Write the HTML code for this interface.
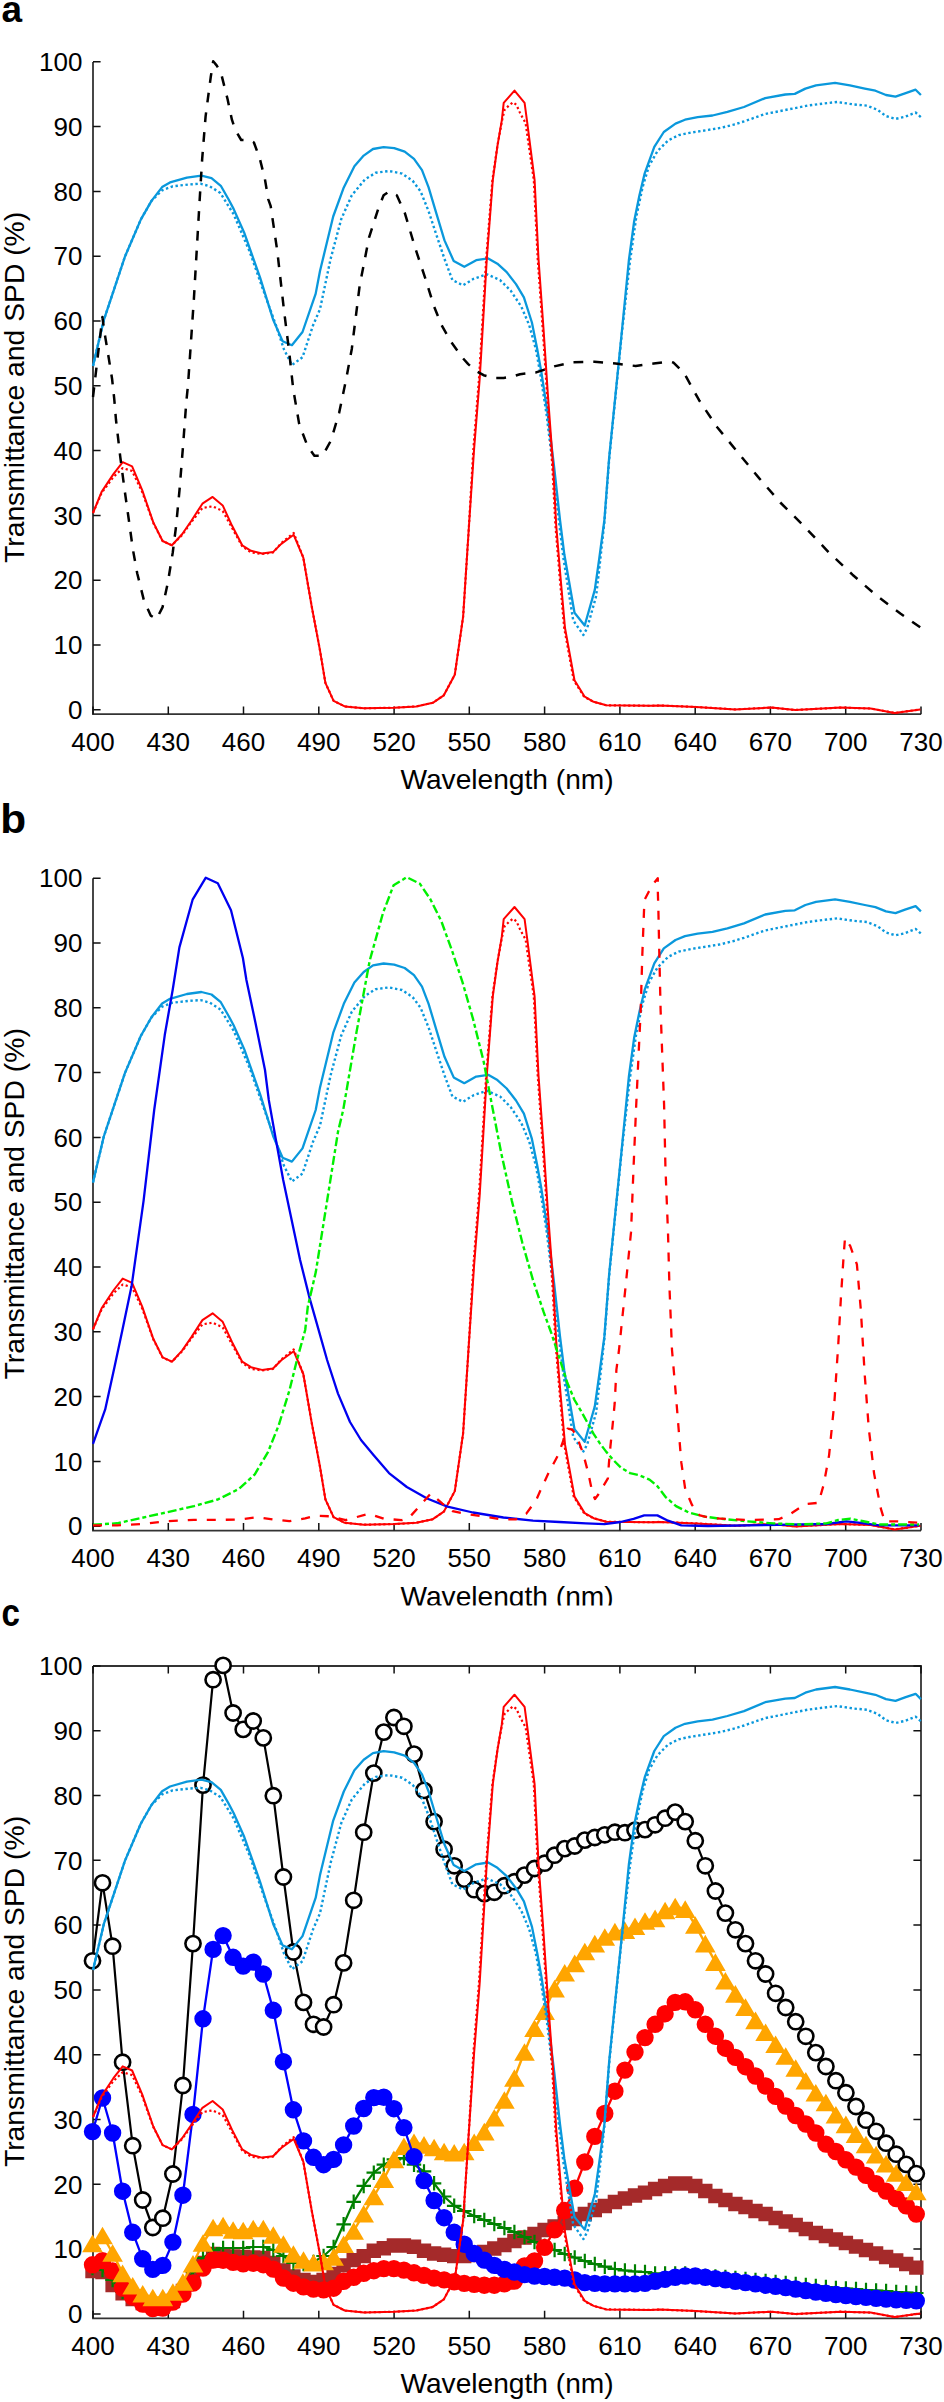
<!DOCTYPE html>
<html><head><meta charset="utf-8"><style>
html,body{margin:0;padding:0;background:#fff;}
svg{display:block;}
.tl{font-family:"Liberation Sans",sans-serif;font-size:26px;fill:#000;}
.al{font-family:"Liberation Sans",sans-serif;font-size:28.15px;fill:#000;}
.yl{font-family:"Liberation Sans",sans-serif;font-size:28.3px;fill:#000;}
.pl{font-family:"Liberation Sans",sans-serif;font-size:40px;font-weight:bold;fill:#000;}
</style></head><body>
<svg width="944" height="2402" viewBox="0 0 944 2402">
<defs><clipPath id="clipb"><rect x="0" y="1500" width="944" height="105.6"/></clipPath></defs>
<rect width="944" height="2402" fill="#fff"/>
<text transform="translate(1.6 21.8)" class="pl" style="font-size:37px">a</text>
<text transform="translate(0.3 832.6) scale(1.06 1)" class="pl">b</text>
<text transform="translate(1.6 1625.7) scale(0.84 1)" class="pl" style="font-size:39.5px">c</text>
<path d="M93.0 61.9 V714.2 H921.0" fill="none" stroke="#333333" stroke-width="1.8"/>
<path d="M93.0 709.8h7.6M93.0 645.0h7.6M93.0 580.2h7.6M93.0 515.4h7.6M93.0 450.6h7.6M93.0 385.8h7.6M93.0 321.0h7.6M93.0 256.2h7.6M93.0 191.4h7.6M93.0 126.6h7.6M93.0 61.8h7.6M93.0 714.2v-7.6M168.3 714.2v-7.6M243.5 714.2v-7.6M318.8 714.2v-7.6M394.1 714.2v-7.6M469.3 714.2v-7.6M544.6 714.2v-7.6M619.9 714.2v-7.6M695.2 714.2v-7.6M770.4 714.2v-7.6M845.7 714.2v-7.6M921.0 714.2v-7.6" fill="none" stroke="#111" stroke-width="1.5"/>
<text x="82.5" y="719.0" class="tl" text-anchor="end">0</text>
<text x="82.5" y="654.2" class="tl" text-anchor="end">10</text>
<text x="82.5" y="589.4" class="tl" text-anchor="end">20</text>
<text x="82.5" y="524.6" class="tl" text-anchor="end">30</text>
<text x="82.5" y="459.8" class="tl" text-anchor="end">40</text>
<text x="82.5" y="395.0" class="tl" text-anchor="end">50</text>
<text x="82.5" y="330.2" class="tl" text-anchor="end">60</text>
<text x="82.5" y="265.4" class="tl" text-anchor="end">70</text>
<text x="82.5" y="200.6" class="tl" text-anchor="end">80</text>
<text x="82.5" y="135.8" class="tl" text-anchor="end">90</text>
<text x="82.5" y="71.0" class="tl" text-anchor="end">100</text>
<text x="93.0" y="750.5" class="tl" text-anchor="middle">400</text>
<text x="168.3" y="750.5" class="tl" text-anchor="middle">430</text>
<text x="243.5" y="750.5" class="tl" text-anchor="middle">460</text>
<text x="318.8" y="750.5" class="tl" text-anchor="middle">490</text>
<text x="394.1" y="750.5" class="tl" text-anchor="middle">520</text>
<text x="469.3" y="750.5" class="tl" text-anchor="middle">550</text>
<text x="544.6" y="750.5" class="tl" text-anchor="middle">580</text>
<text x="619.9" y="750.5" class="tl" text-anchor="middle">610</text>
<text x="695.2" y="750.5" class="tl" text-anchor="middle">640</text>
<text x="770.4" y="750.5" class="tl" text-anchor="middle">670</text>
<text x="845.7" y="750.5" class="tl" text-anchor="middle">700</text>
<text x="921.0" y="750.5" class="tl" text-anchor="middle">730</text>
<text x="507" y="789.2" class="al" text-anchor="middle">Wavelength (nm)</text>
<text transform="translate(24.3 387.4) rotate(-90)" class="yl" text-anchor="middle">Transmittance and SPD (%)</text>
<polyline points="93.0,366.0 103.8,320.1 114.4,288.3 125.0,256.5 140.9,219.4 151.5,200.9 162.1,187.1 170.0,182.4 186.9,177.6 201.4,175.6 211.5,178.1 220.8,185.8 228.5,199.3 233.6,208.9 244.2,232.7 260.1,277.7 273.3,320.1 282.6,341.3 291.9,345.2 302.5,332.0 315.7,293.6 320.0,271.0 333.2,216.5 343.8,187.4 354.4,166.2 363.7,155.6 373.0,149.0 383.6,147.1 394.2,148.2 404.7,151.6 414.0,158.8 422.0,170.2 428.6,187.4 436.5,213.9 444.5,240.4 453.7,261.0 464.3,266.8 476.2,260.2 488.2,258.4 497.4,263.7 506.7,272.1 516.0,284.1 523.9,297.3 531.9,322.5 537.2,348.9 541.4,372.4 547.8,414.7 554.2,467.7 560.0,520.0 564.3,554.3 574.5,612.8 584.7,625.5 594.8,589.9 599.3,558.1 604.4,520.0 609.2,457.1 615.6,393.6 622.0,330.0 628.9,260.0 634.2,221.0 639.4,195.6 644.7,173.3 654.3,146.9 663.8,132.0 675.5,123.6 685.0,119.7 697.7,117.2 712.5,115.5 727.4,111.9 744.0,107.0 765.2,98.1 785.3,94.5 794.8,93.9 805.4,88.6 816.0,85.4 835.1,82.9 849.9,85.4 864.8,88.6 875.4,90.7 886.0,95.0 895.5,96.7 905.0,93.3 915.6,89.7 920.9,95.0" fill="none" stroke="#0a98dc" stroke-width="2.3" stroke-linejoin="round"/>
<polyline points="93.0,366.0 103.8,320.1 114.4,288.3 125.0,256.5 140.9,219.4 151.5,200.9 162.1,190.3 172.7,186.3 188.6,184.5 200.5,183.7 209.8,186.3 220.4,193.0 233.6,214.2 249.5,251.2 265.4,296.2 276.0,325.4 283.9,349.2 291.9,365.1 302.5,357.2 313.0,325.4 320.0,309.2 330.6,258.9 341.2,219.2 351.8,195.3 365.0,179.4 375.6,172.8 388.9,171.0 402.1,173.6 412.7,180.8 420.6,191.4 428.6,211.2 436.5,235.1 444.5,258.9 452.4,280.1 463.0,285.4 473.6,278.8 486.8,274.3 500.1,280.1 510.7,290.7 521.3,306.6 529.2,325.1 535.8,348.9 540.0,372.0 546.5,414.0 553.0,467.0 558.8,520.0 563.4,558.0 573.2,620.4 583.4,635.0 587.2,628.0 596.1,596.3 600.0,562.0 604.4,522.0 609.2,459.0 615.6,395.0 622.0,332.0 629.9,262.0 636.3,216.8 642.6,187.1 649.0,165.9 657.5,151.1 668.1,140.5 678.6,135.2 691.4,132.5 708.3,129.9 721.0,127.8 733.7,124.6 744.0,121.4 765.2,114.0 786.4,109.8 807.6,105.6 824.5,103.4 837.2,102.0 854.2,104.5 866.9,105.6 877.5,109.8 886.0,116.1 895.5,118.9 905.0,116.8 915.6,112.5 920.9,117.2" fill="none" stroke="#0a98dc" stroke-width="2.4" stroke-dasharray="2.4 2.6" stroke-linejoin="round"/>
<polyline points="93.0,513.0 101.6,493.0 113.4,477.0 122.7,468.1 132.1,471.0 142.2,492.0 153.3,523.0 162.6,541.0 171.9,545.3 182.1,535.0 191.4,522.0 202.4,508.0 212.6,506.3 222.7,511.0 232.1,528.0 242.2,546.3 251.0,552.5 262.0,554.0 273.0,552.5 281.3,543.0 293.7,533.0 303.3,557.6 311.6,605.8 319.9,649.9 325.4,682.9 333.6,700.8 344.7,706.4 363.9,708.3 394.2,707.7 416.3,706.4 432.8,702.8 443.8,695.3 454.8,674.7 463.1,616.9 468.6,531.5 473.4,448.9 478.9,380.0 480.8,348.9 486.2,258.9 492.4,180.0 497.4,145.7 502.1,120.3 504.5,110.0 508.8,105.6 513.0,102.3 516.4,104.8 519.8,112.4 522.4,117.4 525.6,123.0 528.0,140.0 533.8,180.0 537.7,258.9 542.8,330.0 547.0,393.6 552.3,465.6 555.4,525.0 559.7,577.2 564.2,628.0 573.7,680.2 584.2,697.0 593.6,701.8 606.3,705.3 650.0,705.8 660.0,705.5 696.1,707.0 735.2,709.4 771.3,707.6 795.4,710.0 840.5,707.6 870.6,708.5 894.7,713.0 920.2,709.4" fill="none" stroke="#ff0000" stroke-width="2.2" stroke-dasharray="2.2 2.6" stroke-linejoin="round"/>
<polyline points="93.0,513.0 101.6,491.9 113.4,474.1 122.7,462.2 132.1,466.4 142.2,490.2 153.3,522.4 162.6,541.0 171.9,545.3 182.1,534.2 191.4,520.7 202.4,503.7 212.6,496.9 222.7,505.4 232.1,525.8 242.2,545.3 251.0,550.8 262.0,553.5 273.0,552.1 281.3,543.9 293.7,534.8 303.3,557.6 311.6,605.8 319.9,649.9 325.4,682.9 333.6,700.8 344.7,706.4 363.9,708.3 394.2,707.7 416.3,706.4 432.8,702.8 443.8,695.3 454.8,674.7 463.1,616.9 468.6,531.5 474.1,448.9 479.6,380.0 481.5,348.9 486.8,258.9 492.8,180.0 497.5,145.7 501.8,120.3 503.7,102.8 514.5,90.6 524.6,102.8 527.2,122.4 534.6,180.0 538.5,258.9 543.6,330.0 547.8,393.6 553.1,465.6 556.2,525.0 560.5,577.2 565.0,628.0 574.5,680.2 584.7,696.7 593.6,701.8 606.3,705.3 650.0,705.8 660.0,705.5 696.1,707.0 735.2,709.4 771.3,707.6 795.4,710.0 840.5,707.6 870.6,708.5 894.7,713.0 920.2,709.4" fill="none" stroke="#ff0000" stroke-width="2.0" stroke-linejoin="round"/>
<polyline points="93.0,397.0 102.4,317.1 104.5,332.4 108.7,357.8 112.1,379.0 114.2,398.5 116.0,420.0 120.2,456.3 124.4,488.5 128.7,519.0 132.9,549.5 137.2,573.2 143.9,600.3 150.7,615.6 156.6,619.0 162.6,607.1 167.7,583.4 172.7,552.9 176.1,525.8 179.5,490.2 182.9,447.8 186.3,402.0 188.0,385.1 193.9,298.9 199.7,199.3 202.2,158.6 205.6,116.3 210.7,77.3 213.2,61.2 216.6,65.4 220.8,72.2 227.6,99.3 231.9,119.7 235.3,129.8 241.2,140.0 249.7,140.0 253.9,142.5 259.8,158.6 264.9,179.0 268.3,199.3 270.7,206.2 277.3,251.2 283.9,309.5 289.2,351.9 293.2,389.0 299.2,424.1 307.5,446.1 314.4,455.7 322.6,455.7 330.9,440.6 339.1,413.0 346.0,380.0 351.8,348.9 359.7,285.4 369.0,237.7 378.3,208.6 383.6,195.3 389.4,191.4 396.8,195.3 404.7,212.6 415.3,248.3 425.9,280.1 433.8,305.8 441.2,324.4 450.7,341.3 456.0,348.7 462.4,357.7 468.2,364.1 476.1,371.0 483.6,375.2 494.2,377.9 503.7,377.9 513.2,376.3 520.0,374.2 536.1,372.4 554.2,366.4 573.2,362.2 594.4,361.8 615.6,363.5 635.7,366.0 653.7,363.5 667.5,361.7 673.5,362.6 684.1,373.1 699.1,400.2 717.2,427.2 738.2,452.8 759.3,478.4 780.3,502.5 804.4,526.5 828.5,552.1 852.5,574.7 876.6,595.7 900.7,613.8 920.2,627.3" fill="none" stroke="#000" stroke-width="2.5" stroke-dasharray="9.8 10" stroke-linejoin="round"/>
<path d="M93.0 878.3 V1530.6 H921.0" fill="none" stroke="#333333" stroke-width="1.8"/>
<path d="M93.0 1526.2h7.6M93.0 1461.4h7.6M93.0 1396.6h7.6M93.0 1331.8h7.6M93.0 1267.0h7.6M93.0 1202.2h7.6M93.0 1137.4h7.6M93.0 1072.6h7.6M93.0 1007.8h7.6M93.0 943.0h7.6M93.0 878.2h7.6M93.0 1530.6v-7.6M168.3 1530.6v-7.6M243.5 1530.6v-7.6M318.8 1530.6v-7.6M394.1 1530.6v-7.6M469.3 1530.6v-7.6M544.6 1530.6v-7.6M619.9 1530.6v-7.6M695.2 1530.6v-7.6M770.4 1530.6v-7.6M845.7 1530.6v-7.6M921.0 1530.6v-7.6" fill="none" stroke="#111" stroke-width="1.5"/>
<text x="82.5" y="1535.4" class="tl" text-anchor="end">0</text>
<text x="82.5" y="1470.6" class="tl" text-anchor="end">10</text>
<text x="82.5" y="1405.8" class="tl" text-anchor="end">20</text>
<text x="82.5" y="1341.0" class="tl" text-anchor="end">30</text>
<text x="82.5" y="1276.2" class="tl" text-anchor="end">40</text>
<text x="82.5" y="1211.4" class="tl" text-anchor="end">50</text>
<text x="82.5" y="1146.6" class="tl" text-anchor="end">60</text>
<text x="82.5" y="1081.8" class="tl" text-anchor="end">70</text>
<text x="82.5" y="1017.0" class="tl" text-anchor="end">80</text>
<text x="82.5" y="952.2" class="tl" text-anchor="end">90</text>
<text x="82.5" y="887.4" class="tl" text-anchor="end">100</text>
<text x="93.0" y="1566.9" class="tl" text-anchor="middle">400</text>
<text x="168.3" y="1566.9" class="tl" text-anchor="middle">430</text>
<text x="243.5" y="1566.9" class="tl" text-anchor="middle">460</text>
<text x="318.8" y="1566.9" class="tl" text-anchor="middle">490</text>
<text x="394.1" y="1566.9" class="tl" text-anchor="middle">520</text>
<text x="469.3" y="1566.9" class="tl" text-anchor="middle">550</text>
<text x="544.6" y="1566.9" class="tl" text-anchor="middle">580</text>
<text x="619.9" y="1566.9" class="tl" text-anchor="middle">610</text>
<text x="695.2" y="1566.9" class="tl" text-anchor="middle">640</text>
<text x="770.4" y="1566.9" class="tl" text-anchor="middle">670</text>
<text x="845.7" y="1566.9" class="tl" text-anchor="middle">700</text>
<text x="921.0" y="1566.9" class="tl" text-anchor="middle">730</text>
<g clip-path="url(#clipb)"><text x="507" y="1605.6" class="al" text-anchor="middle">Wavelength (nm)</text></g>
<text transform="translate(24.3 1203.8) rotate(-90)" class="yl" text-anchor="middle">Transmittance and SPD (%)</text>
<polyline points="93.0,1182.4 103.8,1136.5 114.4,1104.7 125.0,1072.9 140.9,1035.8 151.5,1017.3 162.1,1003.5 170.0,998.8 186.9,994.0 201.4,992.0 211.5,994.5 220.8,1002.2 228.5,1015.7 233.6,1025.3 244.2,1049.1 260.1,1094.1 273.3,1136.5 282.6,1157.7 291.9,1161.6 302.5,1148.4 315.7,1110.0 320.0,1087.4 333.2,1032.9 343.8,1003.8 354.4,982.6 363.7,972.0 373.0,965.4 383.6,963.5 394.2,964.6 404.7,968.0 414.0,975.2 422.0,986.6 428.6,1003.8 436.5,1030.3 444.5,1056.8 453.7,1077.4 464.3,1083.2 476.2,1076.6 488.2,1074.8 497.4,1080.1 506.7,1088.5 516.0,1100.5 523.9,1113.7 531.9,1138.9 537.2,1165.3 541.4,1188.8 547.8,1231.1 554.2,1284.1 560.0,1336.4 564.3,1370.7 574.5,1429.2 584.7,1441.9 594.8,1406.3 599.3,1374.5 604.4,1336.4 609.2,1273.5 615.6,1210.0 622.0,1146.4 628.9,1076.4 634.2,1037.4 639.4,1012.0 644.7,989.7 654.3,963.3 663.8,948.4 675.5,940.0 685.0,936.1 697.7,933.6 712.5,931.9 727.4,928.3 744.0,923.4 765.2,914.5 785.3,910.9 794.8,910.3 805.4,905.0 816.0,901.8 835.1,899.3 849.9,901.8 864.8,905.0 875.4,907.1 886.0,911.4 895.5,913.1 905.0,909.7 915.6,906.1 920.9,911.4" fill="none" stroke="#0a98dc" stroke-width="2.3" stroke-linejoin="round"/>
<polyline points="93.0,1182.4 103.8,1136.5 114.4,1104.7 125.0,1072.9 140.9,1035.8 151.5,1017.3 162.1,1006.7 172.7,1002.7 188.6,1000.9 200.5,1000.1 209.8,1002.7 220.4,1009.4 233.6,1030.6 249.5,1067.6 265.4,1112.6 276.0,1141.8 283.9,1165.6 291.9,1181.5 302.5,1173.6 313.0,1141.8 320.0,1125.6 330.6,1075.3 341.2,1035.6 351.8,1011.7 365.0,995.8 375.6,989.2 388.9,987.4 402.1,990.0 412.7,997.2 420.6,1007.8 428.6,1027.6 436.5,1051.5 444.5,1075.3 452.4,1096.5 463.0,1101.8 473.6,1095.2 486.8,1090.7 500.1,1096.5 510.7,1107.1 521.3,1123.0 529.2,1141.5 535.8,1165.3 540.0,1188.4 546.5,1230.4 553.0,1283.4 558.8,1336.4 563.4,1374.4 573.2,1436.8 583.4,1451.4 587.2,1444.4 596.1,1412.7 600.0,1378.4 604.4,1338.4 609.2,1275.4 615.6,1211.4 622.0,1148.4 629.9,1078.4 636.3,1033.2 642.6,1003.5 649.0,982.3 657.5,967.5 668.1,956.9 678.6,951.6 691.4,948.9 708.3,946.3 721.0,944.2 733.7,941.0 744.0,937.8 765.2,930.4 786.4,926.2 807.6,922.0 824.5,919.8 837.2,918.4 854.2,920.9 866.9,922.0 877.5,926.2 886.0,932.5 895.5,935.3 905.0,933.2 915.6,928.9 920.9,933.6" fill="none" stroke="#0a98dc" stroke-width="2.4" stroke-dasharray="2.4 2.6" stroke-linejoin="round"/>
<polyline points="93.0,1329.4 101.6,1309.4 113.4,1293.4 122.7,1284.5 132.1,1287.4 142.2,1308.4 153.3,1339.4 162.6,1357.4 171.9,1361.7 182.1,1351.4 191.4,1338.4 202.4,1324.4 212.6,1322.7 222.7,1327.4 232.1,1344.4 242.2,1362.7 251.0,1368.9 262.0,1370.4 273.0,1368.9 281.3,1359.4 293.7,1349.4 303.3,1374.0 311.6,1422.2 319.9,1466.3 325.4,1499.3 333.6,1517.2 344.7,1522.8 363.9,1524.7 394.2,1524.1 416.3,1522.8 432.8,1519.2 443.8,1511.7 454.8,1491.1 463.1,1433.3 468.6,1347.9 473.4,1265.3 478.9,1196.4 480.8,1165.3 486.2,1075.3 492.4,996.4 497.4,962.1 502.1,936.7 504.5,926.4 508.8,922.0 513.0,918.7 516.4,921.2 519.8,928.8 522.4,933.8 525.6,939.4 528.0,956.4 533.8,996.4 537.7,1075.3 542.8,1146.4 547.0,1210.0 552.3,1282.0 555.4,1341.4 559.7,1393.6 564.2,1444.4 573.7,1496.6 584.2,1513.4 593.6,1518.2 606.3,1521.7 650.0,1522.2 660.0,1521.9 696.1,1523.4 735.2,1525.8 771.3,1524.0 795.4,1526.4 840.5,1524.0 870.6,1524.9 894.7,1529.4 920.2,1525.8" fill="none" stroke="#ff0000" stroke-width="2.2" stroke-dasharray="2.2 2.6" stroke-linejoin="round"/>
<polyline points="93.0,1329.4 101.6,1308.3 113.4,1290.5 122.7,1278.6 132.1,1282.8 142.2,1306.6 153.3,1338.8 162.6,1357.4 171.9,1361.7 182.1,1350.6 191.4,1337.1 202.4,1320.1 212.6,1313.3 222.7,1321.8 232.1,1342.2 242.2,1361.7 251.0,1367.2 262.0,1369.9 273.0,1368.5 281.3,1360.3 293.7,1351.2 303.3,1374.0 311.6,1422.2 319.9,1466.3 325.4,1499.3 333.6,1517.2 344.7,1522.8 363.9,1524.7 394.2,1524.1 416.3,1522.8 432.8,1519.2 443.8,1511.7 454.8,1491.1 463.1,1433.3 468.6,1347.9 474.1,1265.3 479.6,1196.4 481.5,1165.3 486.8,1075.3 492.8,996.4 497.5,962.1 501.8,936.7 503.7,919.2 514.5,907.0 524.6,919.2 527.2,938.8 534.6,996.4 538.5,1075.3 543.6,1146.4 547.8,1210.0 553.1,1282.0 556.2,1341.4 560.5,1393.6 565.0,1444.4 574.5,1496.6 584.7,1513.1 593.6,1518.2 606.3,1521.7 650.0,1522.2 660.0,1521.9 696.1,1523.4 735.2,1525.8 771.3,1524.0 795.4,1526.4 840.5,1524.0 870.6,1524.9 894.7,1529.4 920.2,1525.8" fill="none" stroke="#ff0000" stroke-width="2.0" stroke-linejoin="round"/>
<polyline points="93.0,1443.9 105.2,1409.4 114.5,1367.1 122.4,1330.0 131.7,1285.4 143.6,1200.6 154.2,1110.0 164.8,1034.8 172.7,989.8 179.4,947.4 192.6,899.7 205.8,877.7 217.8,883.3 231.0,910.3 242.9,958.0 246.4,980.0 255.4,1022.4 265.0,1070.0 268.8,1100.0 275.6,1138.1 283.2,1180.0 300.1,1260.0 309.6,1298.1 318.6,1329.9 327.1,1360.0 338.0,1393.6 350.0,1422.0 361.0,1440.0 373.7,1455.3 389.0,1473.1 406.8,1487.0 427.1,1498.5 447.5,1506.6 472.9,1512.5 503.4,1517.5 533.0,1520.7 559.4,1522.0 585.9,1523.3 604.5,1524.1 620.4,1522.0 633.6,1518.8 644.2,1515.4 657.4,1515.4 668.0,1520.7 681.3,1525.4 707.8,1526.0 826.4,1524.0 846.3,1521.3 858.2,1522.6 879.4,1525.3 919.1,1525.3" fill="none" stroke="#0000f0" stroke-width="2.3" stroke-linejoin="round"/>
<polyline points="93.0,1524.7 117.1,1523.3 141.0,1518.0 167.4,1512.2 193.9,1506.1 217.8,1499.5 239.0,1488.9 254.8,1474.3 268.1,1451.8 278.7,1425.3 289.3,1390.9 297.2,1359.1 305.2,1330.0 307.8,1306.6 315.8,1272.1 326.3,1205.9 338.0,1131.8 343.2,1110.0 356.5,1032.1 369.7,960.6 383.0,913.0 393.6,885.2 406.8,877.2 420.0,883.8 430.6,899.7 441.2,920.9 451.8,950.0 462.4,981.8 473.0,1018.9 483.6,1061.3 491.0,1100.0 501.2,1153.0 511.8,1200.6 522.4,1243.0 533.0,1280.1 543.6,1311.9 552.0,1335.0 567.4,1383.0 574.5,1400.0 580.8,1410.6 587.2,1422.2 593.6,1433.9 599.9,1443.4 606.3,1451.9 613.7,1460.4 621.1,1467.8 630.0,1473.1 638.9,1475.1 649.5,1479.6 657.4,1486.2 665.4,1496.8 676.0,1506.1 689.2,1512.7 705.1,1516.7 720.5,1518.7 747.0,1521.3 773.4,1523.4 799.9,1524.5 826.4,1523.4 838.3,1520.0 850.2,1518.7 863.5,1521.3 879.4,1524.5 919.1,1524.5" fill="none" stroke="#00f000" stroke-width="2.4" stroke-dasharray="9 3 4 3" stroke-linejoin="round"/>
<polyline points="93.0,1525.4 117.1,1525.4 141.0,1524.1 167.4,1521.2 193.9,1519.9 220.4,1519.9 241.6,1519.4 257.5,1517.2 273.4,1519.4 289.3,1521.2 305.2,1518.3 315.3,1515.8 330.5,1516.3 345.8,1520.1 368.6,1513.7 383.9,1518.8 401.7,1520.1 409.3,1517.5 419.5,1506.1 430.9,1493.4 442.4,1503.6 452.6,1511.2 467.8,1514.2 483.1,1516.3 500.9,1519.3 516.1,1519.3 526.3,1513.7 536.4,1499.6 540.6,1490.0 548.5,1473.1 558.1,1455.1 565.0,1436.0 567.6,1428.6 572.4,1429.7 576.6,1436.0 583.0,1453.0 588.3,1473.1 592.5,1493.2 595.0,1499.0 597.8,1495.3 604.2,1484.7 607.9,1478.4 608.9,1463.6 610.5,1445.6 612.6,1425.4 614.7,1403.2 616.4,1369.7 619.0,1350.0 625.7,1285.4 631.0,1232.4 633.6,1166.2 636.2,1105.3 640.7,1010.0 642.3,955.3 644.0,911.0 644.5,900.0 648.5,892.2 654.1,883.0 657.8,878.2 657.8,890.4 658.4,910.4 659.0,939.5 660.6,1010.0 664.1,1105.3 665.4,1166.2 668.0,1232.4 669.4,1285.4 672.0,1350.0 676.0,1396.2 681.3,1462.4 685.2,1488.9 691.9,1504.8 699.8,1515.4 710.4,1518.0 720.5,1518.7 747.0,1520.0 778.7,1519.2 789.3,1514.7 805.2,1504.1 818.5,1502.8 823.8,1484.2 829.1,1455.1 834.4,1402.1 838.3,1343.9 841.0,1296.2 843.6,1256.5 845.0,1238.0 850.2,1245.9 856.9,1264.4 860.8,1309.4 864.8,1375.7 868.8,1428.6 874.1,1473.6 880.7,1508.1 884.7,1521.3 895.3,1521.3 918.1,1522.6" fill="none" stroke="#ff0000" stroke-width="2.3" stroke-dasharray="9 10" stroke-linejoin="round"/>
<path d="M93.0 1666.0 V2318.3 H921.0" fill="none" stroke="#333333" stroke-width="1.8"/>
<path d="M93.0 1666.0 H921.0 V2318.3" fill="none" stroke="#333333" stroke-width="1.8"/>
<path d="M93.0 2313.9h7.6M921.0 2313.9h-7.6M93.0 2249.1h7.6M921.0 2249.1h-7.6M93.0 2184.3h7.6M921.0 2184.3h-7.6M93.0 2119.5h7.6M921.0 2119.5h-7.6M93.0 2054.7h7.6M921.0 2054.7h-7.6M93.0 1989.9h7.6M921.0 1989.9h-7.6M93.0 1925.1h7.6M921.0 1925.1h-7.6M93.0 1860.3h7.6M921.0 1860.3h-7.6M93.0 1795.5h7.6M921.0 1795.5h-7.6M93.0 1730.7h7.6M921.0 1730.7h-7.6M93.0 1665.9h7.6M921.0 1665.9h-7.6M93.0 2318.3v-7.6M93.0 1666.0v7.6M168.3 2318.3v-7.6M168.3 1666.0v7.6M243.5 2318.3v-7.6M243.5 1666.0v7.6M318.8 2318.3v-7.6M318.8 1666.0v7.6M394.1 2318.3v-7.6M394.1 1666.0v7.6M469.3 2318.3v-7.6M469.3 1666.0v7.6M544.6 2318.3v-7.6M544.6 1666.0v7.6M619.9 2318.3v-7.6M619.9 1666.0v7.6M695.2 2318.3v-7.6M695.2 1666.0v7.6M770.4 2318.3v-7.6M770.4 1666.0v7.6M845.7 2318.3v-7.6M845.7 1666.0v7.6M921.0 2318.3v-7.6M921.0 1666.0v7.6" fill="none" stroke="#111" stroke-width="1.5"/>
<text x="82.5" y="2323.1" class="tl" text-anchor="end">0</text>
<text x="82.5" y="2258.3" class="tl" text-anchor="end">10</text>
<text x="82.5" y="2193.5" class="tl" text-anchor="end">20</text>
<text x="82.5" y="2128.7" class="tl" text-anchor="end">30</text>
<text x="82.5" y="2063.9" class="tl" text-anchor="end">40</text>
<text x="82.5" y="1999.1" class="tl" text-anchor="end">50</text>
<text x="82.5" y="1934.3" class="tl" text-anchor="end">60</text>
<text x="82.5" y="1869.5" class="tl" text-anchor="end">70</text>
<text x="82.5" y="1804.7" class="tl" text-anchor="end">80</text>
<text x="82.5" y="1739.9" class="tl" text-anchor="end">90</text>
<text x="82.5" y="1675.1" class="tl" text-anchor="end">100</text>
<text x="93.0" y="2354.6" class="tl" text-anchor="middle">400</text>
<text x="168.3" y="2354.6" class="tl" text-anchor="middle">430</text>
<text x="243.5" y="2354.6" class="tl" text-anchor="middle">460</text>
<text x="318.8" y="2354.6" class="tl" text-anchor="middle">490</text>
<text x="394.1" y="2354.6" class="tl" text-anchor="middle">520</text>
<text x="469.3" y="2354.6" class="tl" text-anchor="middle">550</text>
<text x="544.6" y="2354.6" class="tl" text-anchor="middle">580</text>
<text x="619.9" y="2354.6" class="tl" text-anchor="middle">610</text>
<text x="695.2" y="2354.6" class="tl" text-anchor="middle">640</text>
<text x="770.4" y="2354.6" class="tl" text-anchor="middle">670</text>
<text x="845.7" y="2354.6" class="tl" text-anchor="middle">700</text>
<text x="921.0" y="2354.6" class="tl" text-anchor="middle">730</text>
<text x="507" y="2393.3" class="al" text-anchor="middle">Wavelength (nm)</text>
<text transform="translate(24.3 1991.5) rotate(-90)" class="yl" text-anchor="middle">Transmittance and SPD (%)</text>
<polyline points="92.5,2271.0 102.5,2272.0 112.6,2285.0 122.6,2293.4 132.7,2299.0 142.7,2303.0 152.8,2305.5 162.8,2306.5 172.9,2301.0 182.9,2291.0 193.0,2277.0 203.0,2263.0 213.1,2254.0 223.1,2256.0 233.1,2256.5 243.2,2257.0 253.2,2257.5 263.3,2258.0 273.3,2263.0 283.4,2270.5 293.4,2276.5 303.5,2280.0 313.5,2282.0 323.6,2280.0 333.6,2274.0 343.6,2265.4 353.7,2260.1 363.7,2256.1 373.8,2250.8 383.8,2248.2 393.9,2245.5 403.9,2245.5 414.0,2246.8 424.0,2250.8 434.1,2253.5 444.1,2254.8 454.2,2256.1 464.2,2256.1 474.2,2255.0 484.3,2252.0 494.3,2248.5 504.4,2245.0 514.4,2241.0 524.5,2237.5 534.5,2234.0 544.6,2230.0 554.6,2226.5 564.7,2223.0 574.7,2219.0 584.8,2214.0 594.8,2210.0 604.8,2206.0 614.9,2202.0 624.9,2198.5 635.0,2195.5 645.0,2192.6 655.1,2189.0 665.1,2186.0 675.2,2183.5 685.2,2183.5 695.3,2186.0 705.3,2191.0 715.4,2196.0 725.4,2200.0 735.4,2204.0 745.5,2207.0 755.5,2211.0 765.6,2214.0 775.6,2218.0 785.7,2221.5 795.7,2225.0 805.8,2229.0 815.8,2233.0 825.9,2236.0 835.9,2239.5 845.9,2243.0 856.0,2246.5 866.0,2250.0 876.1,2253.5 886.1,2257.0 896.2,2260.5 906.2,2264.0 916.3,2267.6" fill="none" stroke="#a52a2a" stroke-width="2.3" stroke-linejoin="round"/>
<path d="M85.3 2263.8h14.4v14.4h-14.4zM95.3 2264.8h14.4v14.4h-14.4zM105.4 2277.8h14.4v14.4h-14.4zM115.4 2286.2h14.4v14.4h-14.4zM125.5 2291.8h14.4v14.4h-14.4zM135.5 2295.8h14.4v14.4h-14.4zM145.6 2298.3h14.4v14.4h-14.4zM155.6 2299.3h14.4v14.4h-14.4zM165.7 2293.8h14.4v14.4h-14.4zM175.7 2283.8h14.4v14.4h-14.4zM185.8 2269.8h14.4v14.4h-14.4zM195.8 2255.8h14.4v14.4h-14.4zM205.9 2246.8h14.4v14.4h-14.4zM215.9 2248.8h14.4v14.4h-14.4zM225.9 2249.3h14.4v14.4h-14.4zM236.0 2249.8h14.4v14.4h-14.4zM246.0 2250.3h14.4v14.4h-14.4zM256.1 2250.8h14.4v14.4h-14.4zM266.1 2255.8h14.4v14.4h-14.4zM276.2 2263.3h14.4v14.4h-14.4zM286.2 2269.3h14.4v14.4h-14.4zM296.3 2272.8h14.4v14.4h-14.4zM306.3 2274.8h14.4v14.4h-14.4zM316.4 2272.8h14.4v14.4h-14.4zM326.4 2266.8h14.4v14.4h-14.4zM336.4 2258.2h14.4v14.4h-14.4zM346.5 2252.9h14.4v14.4h-14.4zM356.5 2248.9h14.4v14.4h-14.4zM366.6 2243.6h14.4v14.4h-14.4zM376.6 2241.0h14.4v14.4h-14.4zM386.7 2238.3h14.4v14.4h-14.4zM396.7 2238.3h14.4v14.4h-14.4zM406.8 2239.6h14.4v14.4h-14.4zM416.8 2243.6h14.4v14.4h-14.4zM426.9 2246.3h14.4v14.4h-14.4zM436.9 2247.6h14.4v14.4h-14.4zM447.0 2248.9h14.4v14.4h-14.4zM457.0 2248.9h14.4v14.4h-14.4zM467.0 2247.8h14.4v14.4h-14.4zM477.1 2244.8h14.4v14.4h-14.4zM487.1 2241.3h14.4v14.4h-14.4zM497.2 2237.8h14.4v14.4h-14.4zM507.2 2233.8h14.4v14.4h-14.4zM517.3 2230.3h14.4v14.4h-14.4zM527.3 2226.8h14.4v14.4h-14.4zM537.4 2222.8h14.4v14.4h-14.4zM547.4 2219.3h14.4v14.4h-14.4zM557.5 2215.8h14.4v14.4h-14.4zM567.5 2211.8h14.4v14.4h-14.4zM577.6 2206.8h14.4v14.4h-14.4zM587.6 2202.8h14.4v14.4h-14.4zM597.6 2198.8h14.4v14.4h-14.4zM607.7 2194.8h14.4v14.4h-14.4zM617.7 2191.3h14.4v14.4h-14.4zM627.8 2188.3h14.4v14.4h-14.4zM637.8 2185.4h14.4v14.4h-14.4zM647.9 2181.8h14.4v14.4h-14.4zM657.9 2178.8h14.4v14.4h-14.4zM668.0 2176.3h14.4v14.4h-14.4zM678.0 2176.3h14.4v14.4h-14.4zM688.1 2178.8h14.4v14.4h-14.4zM698.1 2183.8h14.4v14.4h-14.4zM708.2 2188.8h14.4v14.4h-14.4zM718.2 2192.8h14.4v14.4h-14.4zM728.2 2196.8h14.4v14.4h-14.4zM738.3 2199.8h14.4v14.4h-14.4zM748.3 2203.8h14.4v14.4h-14.4zM758.4 2206.8h14.4v14.4h-14.4zM768.4 2210.8h14.4v14.4h-14.4zM778.5 2214.3h14.4v14.4h-14.4zM788.5 2217.8h14.4v14.4h-14.4zM798.6 2221.8h14.4v14.4h-14.4zM808.6 2225.8h14.4v14.4h-14.4zM818.7 2228.8h14.4v14.4h-14.4zM828.7 2232.3h14.4v14.4h-14.4zM838.7 2235.8h14.4v14.4h-14.4zM848.8 2239.3h14.4v14.4h-14.4zM858.8 2242.8h14.4v14.4h-14.4zM868.9 2246.3h14.4v14.4h-14.4zM878.9 2249.8h14.4v14.4h-14.4zM889.0 2253.3h14.4v14.4h-14.4zM899.0 2256.8h14.4v14.4h-14.4zM909.1 2260.4h14.4v14.4h-14.4z" fill="#a52a2a"/>
<polyline points="92.5,2268.0 102.5,2270.0 112.6,2280.0 122.6,2292.0 132.7,2298.0 142.7,2301.0 152.8,2303.0 162.8,2304.0 172.9,2298.0 182.9,2287.0 193.0,2272.0 203.0,2258.0 213.1,2250.0 223.1,2248.0 233.1,2248.0 243.2,2248.0 253.2,2247.0 263.3,2247.0 273.3,2250.0 283.4,2256.0 293.4,2263.0 303.5,2264.0 313.5,2262.0 323.6,2256.0 333.6,2247.0 343.6,2224.3 353.7,2201.8 363.7,2185.9 373.8,2172.7 383.8,2164.7 393.9,2159.4 403.9,2158.1 414.0,2164.7 424.0,2171.4 434.1,2183.3 444.1,2196.5 454.2,2205.8 464.2,2211.0 474.2,2216.0 484.3,2220.0 494.3,2224.0 504.4,2228.0 514.4,2232.0 524.5,2237.0 534.5,2242.0 544.6,2246.0 554.6,2250.0 564.7,2254.0 574.7,2257.5 584.8,2261.0 594.8,2264.0 604.8,2266.7 614.9,2269.0 624.9,2270.5 635.0,2271.5 645.0,2272.0 655.1,2273.5 665.1,2273.5 675.2,2273.5 685.2,2273.5 695.3,2275.5 705.3,2276.0 715.4,2276.5 725.4,2277.0 735.4,2278.0 745.5,2279.0 755.5,2280.0 765.6,2281.0 775.6,2282.0 785.7,2283.0 795.7,2284.0 805.8,2285.0 815.8,2286.0 825.9,2287.0 835.9,2288.0 845.9,2288.5 856.0,2289.0 866.0,2290.0 876.1,2290.5 886.1,2291.0 896.2,2292.0 906.2,2292.5 916.3,2293.0" fill="none" stroke="#008000" stroke-width="2.2" stroke-linejoin="round"/>
<path d="M92.5 2260.8v14.5M85.2 2268.0h14.5M102.5 2262.8v14.5M95.3 2270.0h14.5M112.6 2272.8v14.5M105.3 2280.0h14.5M122.6 2284.8v14.5M115.4 2292.0h14.5M132.7 2290.8v14.5M125.4 2298.0h14.5M142.7 2293.8v14.5M135.5 2301.0h14.5M152.8 2295.8v14.5M145.5 2303.0h14.5M162.8 2296.8v14.5M155.6 2304.0h14.5M172.9 2290.8v14.5M165.6 2298.0h14.5M182.9 2279.8v14.5M175.7 2287.0h14.5M193.0 2264.8v14.5M185.7 2272.0h14.5M203.0 2250.8v14.5M195.8 2258.0h14.5M213.1 2242.8v14.5M205.8 2250.0h14.5M223.1 2240.8v14.5M215.8 2248.0h14.5M233.1 2240.8v14.5M225.9 2248.0h14.5M243.2 2240.8v14.5M235.9 2248.0h14.5M253.2 2239.8v14.5M246.0 2247.0h14.5M263.3 2239.8v14.5M256.0 2247.0h14.5M273.3 2242.8v14.5M266.1 2250.0h14.5M283.4 2248.8v14.5M276.1 2256.0h14.5M293.4 2255.8v14.5M286.2 2263.0h14.5M303.5 2256.8v14.5M296.2 2264.0h14.5M313.5 2254.8v14.5M306.3 2262.0h14.5M323.6 2248.8v14.5M316.3 2256.0h14.5M333.6 2239.8v14.5M326.4 2247.0h14.5M343.6 2217.1v14.5M336.4 2224.3h14.5M353.7 2194.6v14.5M346.4 2201.8h14.5M363.7 2178.7v14.5M356.5 2185.9h14.5M373.8 2165.4v14.5M366.5 2172.7h14.5M383.8 2157.4v14.5M376.6 2164.7h14.5M393.9 2152.2v14.5M386.6 2159.4h14.5M403.9 2150.8v14.5M396.7 2158.1h14.5M414.0 2157.4v14.5M406.7 2164.7h14.5M424.0 2164.2v14.5M416.8 2171.4h14.5M434.1 2176.1v14.5M426.8 2183.3h14.5M444.1 2189.2v14.5M436.9 2196.5h14.5M454.2 2198.6v14.5M446.9 2205.8h14.5M464.2 2203.8v14.5M457.0 2211.0h14.5M474.2 2208.8v14.5M467.0 2216.0h14.5M484.3 2212.8v14.5M477.0 2220.0h14.5M494.3 2216.8v14.5M487.1 2224.0h14.5M504.4 2220.8v14.5M497.1 2228.0h14.5M514.4 2224.8v14.5M507.2 2232.0h14.5M524.5 2229.8v14.5M517.2 2237.0h14.5M534.5 2234.8v14.5M527.3 2242.0h14.5M544.6 2238.8v14.5M537.3 2246.0h14.5M554.6 2242.8v14.5M547.4 2250.0h14.5M564.7 2246.8v14.5M557.4 2254.0h14.5M574.7 2250.2v14.5M567.5 2257.5h14.5M584.8 2253.8v14.5M577.5 2261.0h14.5M594.8 2256.8v14.5M587.5 2264.0h14.5M604.8 2259.4v14.5M597.6 2266.7h14.5M614.9 2261.8v14.5M607.6 2269.0h14.5M624.9 2263.2v14.5M617.7 2270.5h14.5M635.0 2264.2v14.5M627.7 2271.5h14.5M645.0 2264.8v14.5M637.8 2272.0h14.5M655.1 2266.2v14.5M647.8 2273.5h14.5M665.1 2266.2v14.5M657.9 2273.5h14.5M675.2 2266.2v14.5M667.9 2273.5h14.5M685.2 2266.2v14.5M678.0 2273.5h14.5M695.3 2268.2v14.5M688.0 2275.5h14.5M705.3 2268.8v14.5M698.1 2276.0h14.5M715.4 2269.2v14.5M708.1 2276.5h14.5M725.4 2269.8v14.5M718.1 2277.0h14.5M735.4 2270.8v14.5M728.2 2278.0h14.5M745.5 2271.8v14.5M738.2 2279.0h14.5M755.5 2272.8v14.5M748.3 2280.0h14.5M765.6 2273.8v14.5M758.3 2281.0h14.5M775.6 2274.8v14.5M768.4 2282.0h14.5M785.7 2275.8v14.5M778.4 2283.0h14.5M795.7 2276.8v14.5M788.5 2284.0h14.5M805.8 2277.8v14.5M798.5 2285.0h14.5M815.8 2278.8v14.5M808.6 2286.0h14.5M825.9 2279.8v14.5M818.6 2287.0h14.5M835.9 2280.8v14.5M828.7 2288.0h14.5M845.9 2281.2v14.5M838.7 2288.5h14.5M856.0 2281.8v14.5M848.7 2289.0h14.5M866.0 2282.8v14.5M858.8 2290.0h14.5M876.1 2283.2v14.5M868.8 2290.5h14.5M886.1 2283.8v14.5M878.9 2291.0h14.5M896.2 2284.8v14.5M888.9 2292.0h14.5M906.2 2285.2v14.5M899.0 2292.5h14.5M916.3 2285.8v14.5M909.0 2293.0h14.5" fill="none" stroke="#008000" stroke-width="2.2"/>
<polyline points="92.5,2264.8 102.5,2260.6 112.6,2271.0 122.6,2288.0 132.7,2297.0 142.7,2304.0 152.8,2308.5 162.8,2308.0 172.9,2302.0 182.9,2294.0 193.0,2283.0 203.0,2268.0 213.1,2260.0 223.1,2260.2 233.1,2262.4 243.2,2263.9 253.2,2263.2 263.3,2264.7 273.3,2269.1 283.4,2278.0 293.4,2283.2 303.5,2286.9 313.5,2289.1 323.6,2289.9 333.6,2288.2 343.6,2281.3 353.7,2277.3 363.7,2273.3 373.8,2270.7 383.8,2268.6 393.9,2268.6 403.9,2270.1 414.0,2272.8 424.0,2275.4 434.1,2278.1 444.1,2279.9 454.2,2281.8 464.2,2283.4 474.2,2284.4 484.3,2285.2 494.3,2285.2 504.4,2283.9 514.4,2281.0 524.5,2266.0 534.5,2261.0 544.6,2247.4 554.6,2229.9 564.7,2210.5 574.7,2188.3 584.8,2162.0 594.8,2136.4 604.8,2113.5 614.9,2091.2 624.9,2070.1 635.0,2052.1 645.0,2037.6 655.1,2024.3 665.1,2013.7 675.2,2002.4 685.2,2001.8 695.3,2009.8 705.3,2024.3 715.4,2036.2 725.4,2048.2 735.4,2057.4 745.5,2066.7 755.5,2076.0 765.6,2086.0 775.6,2096.4 785.7,2106.0 795.7,2115.5 805.8,2124.0 815.8,2133.0 825.9,2144.1 835.9,2151.5 845.9,2159.8 856.0,2167.1 866.0,2175.4 876.1,2183.7 886.1,2191.1 896.2,2198.5 906.2,2205.9 916.3,2214.1" fill="none" stroke="#ff0000" stroke-width="2.3" stroke-linejoin="round"/>
<path d="M92.5 2264.8m-8.7 0a8.7 8.7 0 1 0 17.4 0a8.7 8.7 0 1 0 -17.4 0M102.5 2260.6m-8.7 0a8.7 8.7 0 1 0 17.4 0a8.7 8.7 0 1 0 -17.4 0M112.6 2271.0m-8.7 0a8.7 8.7 0 1 0 17.4 0a8.7 8.7 0 1 0 -17.4 0M122.6 2288.0m-8.7 0a8.7 8.7 0 1 0 17.4 0a8.7 8.7 0 1 0 -17.4 0M132.7 2297.0m-8.7 0a8.7 8.7 0 1 0 17.4 0a8.7 8.7 0 1 0 -17.4 0M142.7 2304.0m-8.7 0a8.7 8.7 0 1 0 17.4 0a8.7 8.7 0 1 0 -17.4 0M152.8 2308.5m-8.7 0a8.7 8.7 0 1 0 17.4 0a8.7 8.7 0 1 0 -17.4 0M162.8 2308.0m-8.7 0a8.7 8.7 0 1 0 17.4 0a8.7 8.7 0 1 0 -17.4 0M172.9 2302.0m-8.7 0a8.7 8.7 0 1 0 17.4 0a8.7 8.7 0 1 0 -17.4 0M182.9 2294.0m-8.7 0a8.7 8.7 0 1 0 17.4 0a8.7 8.7 0 1 0 -17.4 0M193.0 2283.0m-8.7 0a8.7 8.7 0 1 0 17.4 0a8.7 8.7 0 1 0 -17.4 0M203.0 2268.0m-8.7 0a8.7 8.7 0 1 0 17.4 0a8.7 8.7 0 1 0 -17.4 0M213.1 2260.0m-8.7 0a8.7 8.7 0 1 0 17.4 0a8.7 8.7 0 1 0 -17.4 0M223.1 2260.2m-8.7 0a8.7 8.7 0 1 0 17.4 0a8.7 8.7 0 1 0 -17.4 0M233.1 2262.4m-8.7 0a8.7 8.7 0 1 0 17.4 0a8.7 8.7 0 1 0 -17.4 0M243.2 2263.9m-8.7 0a8.7 8.7 0 1 0 17.4 0a8.7 8.7 0 1 0 -17.4 0M253.2 2263.2m-8.7 0a8.7 8.7 0 1 0 17.4 0a8.7 8.7 0 1 0 -17.4 0M263.3 2264.7m-8.7 0a8.7 8.7 0 1 0 17.4 0a8.7 8.7 0 1 0 -17.4 0M273.3 2269.1m-8.7 0a8.7 8.7 0 1 0 17.4 0a8.7 8.7 0 1 0 -17.4 0M283.4 2278.0m-8.7 0a8.7 8.7 0 1 0 17.4 0a8.7 8.7 0 1 0 -17.4 0M293.4 2283.2m-8.7 0a8.7 8.7 0 1 0 17.4 0a8.7 8.7 0 1 0 -17.4 0M303.5 2286.9m-8.7 0a8.7 8.7 0 1 0 17.4 0a8.7 8.7 0 1 0 -17.4 0M313.5 2289.1m-8.7 0a8.7 8.7 0 1 0 17.4 0a8.7 8.7 0 1 0 -17.4 0M323.6 2289.9m-8.7 0a8.7 8.7 0 1 0 17.4 0a8.7 8.7 0 1 0 -17.4 0M333.6 2288.2m-8.7 0a8.7 8.7 0 1 0 17.4 0a8.7 8.7 0 1 0 -17.4 0M343.6 2281.3m-8.7 0a8.7 8.7 0 1 0 17.4 0a8.7 8.7 0 1 0 -17.4 0M353.7 2277.3m-8.7 0a8.7 8.7 0 1 0 17.4 0a8.7 8.7 0 1 0 -17.4 0M363.7 2273.3m-8.7 0a8.7 8.7 0 1 0 17.4 0a8.7 8.7 0 1 0 -17.4 0M373.8 2270.7m-8.7 0a8.7 8.7 0 1 0 17.4 0a8.7 8.7 0 1 0 -17.4 0M383.8 2268.6m-8.7 0a8.7 8.7 0 1 0 17.4 0a8.7 8.7 0 1 0 -17.4 0M393.9 2268.6m-8.7 0a8.7 8.7 0 1 0 17.4 0a8.7 8.7 0 1 0 -17.4 0M403.9 2270.1m-8.7 0a8.7 8.7 0 1 0 17.4 0a8.7 8.7 0 1 0 -17.4 0M414.0 2272.8m-8.7 0a8.7 8.7 0 1 0 17.4 0a8.7 8.7 0 1 0 -17.4 0M424.0 2275.4m-8.7 0a8.7 8.7 0 1 0 17.4 0a8.7 8.7 0 1 0 -17.4 0M434.1 2278.1m-8.7 0a8.7 8.7 0 1 0 17.4 0a8.7 8.7 0 1 0 -17.4 0M444.1 2279.9m-8.7 0a8.7 8.7 0 1 0 17.4 0a8.7 8.7 0 1 0 -17.4 0M454.2 2281.8m-8.7 0a8.7 8.7 0 1 0 17.4 0a8.7 8.7 0 1 0 -17.4 0M464.2 2283.4m-8.7 0a8.7 8.7 0 1 0 17.4 0a8.7 8.7 0 1 0 -17.4 0M474.2 2284.4m-8.7 0a8.7 8.7 0 1 0 17.4 0a8.7 8.7 0 1 0 -17.4 0M484.3 2285.2m-8.7 0a8.7 8.7 0 1 0 17.4 0a8.7 8.7 0 1 0 -17.4 0M494.3 2285.2m-8.7 0a8.7 8.7 0 1 0 17.4 0a8.7 8.7 0 1 0 -17.4 0M504.4 2283.9m-8.7 0a8.7 8.7 0 1 0 17.4 0a8.7 8.7 0 1 0 -17.4 0M514.4 2281.0m-8.7 0a8.7 8.7 0 1 0 17.4 0a8.7 8.7 0 1 0 -17.4 0M524.5 2266.0m-8.7 0a8.7 8.7 0 1 0 17.4 0a8.7 8.7 0 1 0 -17.4 0M534.5 2261.0m-8.7 0a8.7 8.7 0 1 0 17.4 0a8.7 8.7 0 1 0 -17.4 0M544.6 2247.4m-8.7 0a8.7 8.7 0 1 0 17.4 0a8.7 8.7 0 1 0 -17.4 0M554.6 2229.9m-8.7 0a8.7 8.7 0 1 0 17.4 0a8.7 8.7 0 1 0 -17.4 0M564.7 2210.5m-8.7 0a8.7 8.7 0 1 0 17.4 0a8.7 8.7 0 1 0 -17.4 0M574.7 2188.3m-8.7 0a8.7 8.7 0 1 0 17.4 0a8.7 8.7 0 1 0 -17.4 0M584.8 2162.0m-8.7 0a8.7 8.7 0 1 0 17.4 0a8.7 8.7 0 1 0 -17.4 0M594.8 2136.4m-8.7 0a8.7 8.7 0 1 0 17.4 0a8.7 8.7 0 1 0 -17.4 0M604.8 2113.5m-8.7 0a8.7 8.7 0 1 0 17.4 0a8.7 8.7 0 1 0 -17.4 0M614.9 2091.2m-8.7 0a8.7 8.7 0 1 0 17.4 0a8.7 8.7 0 1 0 -17.4 0M624.9 2070.1m-8.7 0a8.7 8.7 0 1 0 17.4 0a8.7 8.7 0 1 0 -17.4 0M635.0 2052.1m-8.7 0a8.7 8.7 0 1 0 17.4 0a8.7 8.7 0 1 0 -17.4 0M645.0 2037.6m-8.7 0a8.7 8.7 0 1 0 17.4 0a8.7 8.7 0 1 0 -17.4 0M655.1 2024.3m-8.7 0a8.7 8.7 0 1 0 17.4 0a8.7 8.7 0 1 0 -17.4 0M665.1 2013.7m-8.7 0a8.7 8.7 0 1 0 17.4 0a8.7 8.7 0 1 0 -17.4 0M675.2 2002.4m-8.7 0a8.7 8.7 0 1 0 17.4 0a8.7 8.7 0 1 0 -17.4 0M685.2 2001.8m-8.7 0a8.7 8.7 0 1 0 17.4 0a8.7 8.7 0 1 0 -17.4 0M695.3 2009.8m-8.7 0a8.7 8.7 0 1 0 17.4 0a8.7 8.7 0 1 0 -17.4 0M705.3 2024.3m-8.7 0a8.7 8.7 0 1 0 17.4 0a8.7 8.7 0 1 0 -17.4 0M715.4 2036.2m-8.7 0a8.7 8.7 0 1 0 17.4 0a8.7 8.7 0 1 0 -17.4 0M725.4 2048.2m-8.7 0a8.7 8.7 0 1 0 17.4 0a8.7 8.7 0 1 0 -17.4 0M735.4 2057.4m-8.7 0a8.7 8.7 0 1 0 17.4 0a8.7 8.7 0 1 0 -17.4 0M745.5 2066.7m-8.7 0a8.7 8.7 0 1 0 17.4 0a8.7 8.7 0 1 0 -17.4 0M755.5 2076.0m-8.7 0a8.7 8.7 0 1 0 17.4 0a8.7 8.7 0 1 0 -17.4 0M765.6 2086.0m-8.7 0a8.7 8.7 0 1 0 17.4 0a8.7 8.7 0 1 0 -17.4 0M775.6 2096.4m-8.7 0a8.7 8.7 0 1 0 17.4 0a8.7 8.7 0 1 0 -17.4 0M785.7 2106.0m-8.7 0a8.7 8.7 0 1 0 17.4 0a8.7 8.7 0 1 0 -17.4 0M795.7 2115.5m-8.7 0a8.7 8.7 0 1 0 17.4 0a8.7 8.7 0 1 0 -17.4 0M805.8 2124.0m-8.7 0a8.7 8.7 0 1 0 17.4 0a8.7 8.7 0 1 0 -17.4 0M815.8 2133.0m-8.7 0a8.7 8.7 0 1 0 17.4 0a8.7 8.7 0 1 0 -17.4 0M825.9 2144.1m-8.7 0a8.7 8.7 0 1 0 17.4 0a8.7 8.7 0 1 0 -17.4 0M835.9 2151.5m-8.7 0a8.7 8.7 0 1 0 17.4 0a8.7 8.7 0 1 0 -17.4 0M845.9 2159.8m-8.7 0a8.7 8.7 0 1 0 17.4 0a8.7 8.7 0 1 0 -17.4 0M856.0 2167.1m-8.7 0a8.7 8.7 0 1 0 17.4 0a8.7 8.7 0 1 0 -17.4 0M866.0 2175.4m-8.7 0a8.7 8.7 0 1 0 17.4 0a8.7 8.7 0 1 0 -17.4 0M876.1 2183.7m-8.7 0a8.7 8.7 0 1 0 17.4 0a8.7 8.7 0 1 0 -17.4 0M886.1 2191.1m-8.7 0a8.7 8.7 0 1 0 17.4 0a8.7 8.7 0 1 0 -17.4 0M896.2 2198.5m-8.7 0a8.7 8.7 0 1 0 17.4 0a8.7 8.7 0 1 0 -17.4 0M906.2 2205.9m-8.7 0a8.7 8.7 0 1 0 17.4 0a8.7 8.7 0 1 0 -17.4 0M916.3 2214.1m-8.7 0a8.7 8.7 0 1 0 17.4 0a8.7 8.7 0 1 0 -17.4 0" fill="#ff0000"/>
<polyline points="92.5,2243.4 102.5,2235.5 112.6,2253.0 122.6,2273.4 132.7,2285.8 142.7,2293.7 152.8,2297.5 162.8,2297.5 172.9,2292.0 182.9,2282.0 193.0,2263.8 203.0,2243.0 213.1,2227.5 223.1,2225.5 233.1,2230.0 243.2,2230.5 253.2,2228.5 263.3,2228.5 273.3,2235.0 283.4,2244.0 293.4,2254.0 303.5,2260.0 313.5,2262.8 323.6,2261.5 333.6,2257.0 343.6,2244.2 353.7,2231.0 363.7,2213.7 373.8,2196.5 383.8,2179.3 393.9,2159.4 403.9,2146.2 414.0,2142.2 424.0,2144.9 434.1,2147.5 444.1,2151.5 454.2,2152.8 464.2,2151.5 474.2,2142.2 484.3,2131.6 494.3,2117.7 504.4,2100.0 514.4,2078.0 524.5,2052.0 534.5,2028.3 544.6,2011.1 554.6,1988.6 564.7,1972.7 574.7,1963.4 584.8,1951.5 594.8,1943.6 604.8,1937.0 614.9,1931.6 624.9,1930.3 635.0,1926.3 645.0,1921.0 655.1,1918.4 665.1,1910.5 675.2,1906.5 685.2,1909.1 695.3,1925.0 705.3,1943.6 715.4,1962.1 725.4,1980.7 735.4,1993.9 745.5,2007.1 755.5,2020.4 765.6,2032.3 775.6,2044.2 785.7,2056.0 795.7,2068.0 805.8,2080.7 815.8,2092.7 825.9,2102.5 835.9,2114.7 845.9,2124.4 856.0,2134.1 866.0,2144.5 876.1,2154.6 886.1,2163.8 896.2,2173.0 906.2,2182.3 916.3,2191.5" fill="none" stroke="#ffa500" stroke-width="2.4" stroke-linejoin="round"/>
<path d="M92.5 2234.6l10.3 17.6h-20.6zM102.5 2226.7l10.3 17.6h-20.6zM112.6 2244.2l10.3 17.6h-20.6zM122.6 2264.6l10.3 17.6h-20.6zM132.7 2277.0l10.3 17.6h-20.6zM142.7 2284.9l10.3 17.6h-20.6zM152.8 2288.7l10.3 17.6h-20.6zM162.8 2288.7l10.3 17.6h-20.6zM172.9 2283.2l10.3 17.6h-20.6zM182.9 2273.2l10.3 17.6h-20.6zM193.0 2255.0l10.3 17.6h-20.6zM203.0 2234.2l10.3 17.6h-20.6zM213.1 2218.7l10.3 17.6h-20.6zM223.1 2216.7l10.3 17.6h-20.6zM233.1 2221.2l10.3 17.6h-20.6zM243.2 2221.7l10.3 17.6h-20.6zM253.2 2219.7l10.3 17.6h-20.6zM263.3 2219.7l10.3 17.6h-20.6zM273.3 2226.2l10.3 17.6h-20.6zM283.4 2235.2l10.3 17.6h-20.6zM293.4 2245.2l10.3 17.6h-20.6zM303.5 2251.2l10.3 17.6h-20.6zM313.5 2254.0l10.3 17.6h-20.6zM323.6 2252.7l10.3 17.6h-20.6zM333.6 2248.2l10.3 17.6h-20.6zM343.6 2235.4l10.3 17.6h-20.6zM353.7 2222.2l10.3 17.6h-20.6zM363.7 2204.9l10.3 17.6h-20.6zM373.8 2187.7l10.3 17.6h-20.6zM383.8 2170.5l10.3 17.6h-20.6zM393.9 2150.6l10.3 17.6h-20.6zM403.9 2137.4l10.3 17.6h-20.6zM414.0 2133.4l10.3 17.6h-20.6zM424.0 2136.1l10.3 17.6h-20.6zM434.1 2138.7l10.3 17.6h-20.6zM444.1 2142.7l10.3 17.6h-20.6zM454.2 2144.0l10.3 17.6h-20.6zM464.2 2142.7l10.3 17.6h-20.6zM474.2 2133.4l10.3 17.6h-20.6zM484.3 2122.8l10.3 17.6h-20.6zM494.3 2108.9l10.3 17.6h-20.6zM504.4 2091.2l10.3 17.6h-20.6zM514.4 2069.2l10.3 17.6h-20.6zM524.5 2043.2l10.3 17.6h-20.6zM534.5 2019.5l10.3 17.6h-20.6zM544.6 2002.3l10.3 17.6h-20.6zM554.6 1979.8l10.3 17.6h-20.6zM564.7 1963.9l10.3 17.6h-20.6zM574.7 1954.6l10.3 17.6h-20.6zM584.8 1942.7l10.3 17.6h-20.6zM594.8 1934.8l10.3 17.6h-20.6zM604.8 1928.2l10.3 17.6h-20.6zM614.9 1922.8l10.3 17.6h-20.6zM624.9 1921.5l10.3 17.6h-20.6zM635.0 1917.5l10.3 17.6h-20.6zM645.0 1912.2l10.3 17.6h-20.6zM655.1 1909.6l10.3 17.6h-20.6zM665.1 1901.7l10.3 17.6h-20.6zM675.2 1897.7l10.3 17.6h-20.6zM685.2 1900.3l10.3 17.6h-20.6zM695.3 1916.2l10.3 17.6h-20.6zM705.3 1934.8l10.3 17.6h-20.6zM715.4 1953.3l10.3 17.6h-20.6zM725.4 1971.9l10.3 17.6h-20.6zM735.4 1985.1l10.3 17.6h-20.6zM745.5 1998.3l10.3 17.6h-20.6zM755.5 2011.6l10.3 17.6h-20.6zM765.6 2023.5l10.3 17.6h-20.6zM775.6 2035.4l10.3 17.6h-20.6zM785.7 2047.2l10.3 17.6h-20.6zM795.7 2059.2l10.3 17.6h-20.6zM805.8 2071.9l10.3 17.6h-20.6zM815.8 2083.9l10.3 17.6h-20.6zM825.9 2093.7l10.3 17.6h-20.6zM835.9 2105.9l10.3 17.6h-20.6zM845.9 2115.6l10.3 17.6h-20.6zM856.0 2125.3l10.3 17.6h-20.6zM866.0 2135.7l10.3 17.6h-20.6zM876.1 2145.8l10.3 17.6h-20.6zM886.1 2155.0l10.3 17.6h-20.6zM896.2 2164.2l10.3 17.6h-20.6zM906.2 2173.5l10.3 17.6h-20.6zM916.3 2182.7l10.3 17.6h-20.6z" fill="#ffa500"/>
<polyline points="92.5,2131.6 102.5,2098.0 112.6,2133.0 122.6,2191.2 132.7,2232.3 142.7,2258.8 152.8,2269.4 162.8,2265.4 172.9,2242.1 182.9,2195.2 193.0,2114.4 203.0,2018.8 213.1,1949.4 223.1,1935.6 233.1,1957.3 243.2,1966.1 253.2,1962.1 263.3,1974.0 273.3,2010.3 283.4,2061.7 293.4,2109.8 303.5,2140.9 313.5,2157.3 323.6,2164.7 333.6,2159.4 343.6,2144.9 353.7,2126.0 363.7,2108.5 373.8,2097.6 383.8,2097.2 393.9,2108.7 403.9,2127.6 414.0,2156.8 424.0,2180.6 434.1,2200.5 444.1,2217.7 454.2,2232.3 464.2,2244.2 474.2,2253.5 484.3,2260.1 494.3,2265.4 504.4,2269.4 514.4,2272.0 524.5,2274.6 534.5,2276.0 544.6,2276.5 554.6,2277.3 564.7,2278.1 574.7,2280.0 584.8,2282.6 594.8,2283.4 604.8,2283.9 614.9,2283.9 624.9,2283.9 635.0,2283.9 645.0,2283.4 655.1,2281.3 665.1,2279.2 675.2,2277.3 685.2,2276.0 695.3,2276.0 705.3,2277.3 715.4,2278.6 725.4,2279.9 735.4,2281.3 745.5,2282.6 755.5,2283.9 765.6,2285.2 775.6,2286.3 785.7,2287.5 795.7,2289.0 805.8,2290.5 815.8,2292.0 825.9,2293.3 835.9,2294.5 845.9,2295.5 856.0,2296.5 866.0,2297.4 876.1,2298.3 886.1,2299.1 896.2,2299.8 906.2,2300.4 916.3,2300.8" fill="none" stroke="#0000ff" stroke-width="2.3" stroke-linejoin="round"/>
<path d="M92.5 2131.6m-8.7 0a8.7 8.7 0 1 0 17.4 0a8.7 8.7 0 1 0 -17.4 0M102.5 2098.0m-8.7 0a8.7 8.7 0 1 0 17.4 0a8.7 8.7 0 1 0 -17.4 0M112.6 2133.0m-8.7 0a8.7 8.7 0 1 0 17.4 0a8.7 8.7 0 1 0 -17.4 0M122.6 2191.2m-8.7 0a8.7 8.7 0 1 0 17.4 0a8.7 8.7 0 1 0 -17.4 0M132.7 2232.3m-8.7 0a8.7 8.7 0 1 0 17.4 0a8.7 8.7 0 1 0 -17.4 0M142.7 2258.8m-8.7 0a8.7 8.7 0 1 0 17.4 0a8.7 8.7 0 1 0 -17.4 0M152.8 2269.4m-8.7 0a8.7 8.7 0 1 0 17.4 0a8.7 8.7 0 1 0 -17.4 0M162.8 2265.4m-8.7 0a8.7 8.7 0 1 0 17.4 0a8.7 8.7 0 1 0 -17.4 0M172.9 2242.1m-8.7 0a8.7 8.7 0 1 0 17.4 0a8.7 8.7 0 1 0 -17.4 0M182.9 2195.2m-8.7 0a8.7 8.7 0 1 0 17.4 0a8.7 8.7 0 1 0 -17.4 0M193.0 2114.4m-8.7 0a8.7 8.7 0 1 0 17.4 0a8.7 8.7 0 1 0 -17.4 0M203.0 2018.8m-8.7 0a8.7 8.7 0 1 0 17.4 0a8.7 8.7 0 1 0 -17.4 0M213.1 1949.4m-8.7 0a8.7 8.7 0 1 0 17.4 0a8.7 8.7 0 1 0 -17.4 0M223.1 1935.6m-8.7 0a8.7 8.7 0 1 0 17.4 0a8.7 8.7 0 1 0 -17.4 0M233.1 1957.3m-8.7 0a8.7 8.7 0 1 0 17.4 0a8.7 8.7 0 1 0 -17.4 0M243.2 1966.1m-8.7 0a8.7 8.7 0 1 0 17.4 0a8.7 8.7 0 1 0 -17.4 0M253.2 1962.1m-8.7 0a8.7 8.7 0 1 0 17.4 0a8.7 8.7 0 1 0 -17.4 0M263.3 1974.0m-8.7 0a8.7 8.7 0 1 0 17.4 0a8.7 8.7 0 1 0 -17.4 0M273.3 2010.3m-8.7 0a8.7 8.7 0 1 0 17.4 0a8.7 8.7 0 1 0 -17.4 0M283.4 2061.7m-8.7 0a8.7 8.7 0 1 0 17.4 0a8.7 8.7 0 1 0 -17.4 0M293.4 2109.8m-8.7 0a8.7 8.7 0 1 0 17.4 0a8.7 8.7 0 1 0 -17.4 0M303.5 2140.9m-8.7 0a8.7 8.7 0 1 0 17.4 0a8.7 8.7 0 1 0 -17.4 0M313.5 2157.3m-8.7 0a8.7 8.7 0 1 0 17.4 0a8.7 8.7 0 1 0 -17.4 0M323.6 2164.7m-8.7 0a8.7 8.7 0 1 0 17.4 0a8.7 8.7 0 1 0 -17.4 0M333.6 2159.4m-8.7 0a8.7 8.7 0 1 0 17.4 0a8.7 8.7 0 1 0 -17.4 0M343.6 2144.9m-8.7 0a8.7 8.7 0 1 0 17.4 0a8.7 8.7 0 1 0 -17.4 0M353.7 2126.0m-8.7 0a8.7 8.7 0 1 0 17.4 0a8.7 8.7 0 1 0 -17.4 0M363.7 2108.5m-8.7 0a8.7 8.7 0 1 0 17.4 0a8.7 8.7 0 1 0 -17.4 0M373.8 2097.6m-8.7 0a8.7 8.7 0 1 0 17.4 0a8.7 8.7 0 1 0 -17.4 0M383.8 2097.2m-8.7 0a8.7 8.7 0 1 0 17.4 0a8.7 8.7 0 1 0 -17.4 0M393.9 2108.7m-8.7 0a8.7 8.7 0 1 0 17.4 0a8.7 8.7 0 1 0 -17.4 0M403.9 2127.6m-8.7 0a8.7 8.7 0 1 0 17.4 0a8.7 8.7 0 1 0 -17.4 0M414.0 2156.8m-8.7 0a8.7 8.7 0 1 0 17.4 0a8.7 8.7 0 1 0 -17.4 0M424.0 2180.6m-8.7 0a8.7 8.7 0 1 0 17.4 0a8.7 8.7 0 1 0 -17.4 0M434.1 2200.5m-8.7 0a8.7 8.7 0 1 0 17.4 0a8.7 8.7 0 1 0 -17.4 0M444.1 2217.7m-8.7 0a8.7 8.7 0 1 0 17.4 0a8.7 8.7 0 1 0 -17.4 0M454.2 2232.3m-8.7 0a8.7 8.7 0 1 0 17.4 0a8.7 8.7 0 1 0 -17.4 0M464.2 2244.2m-8.7 0a8.7 8.7 0 1 0 17.4 0a8.7 8.7 0 1 0 -17.4 0M474.2 2253.5m-8.7 0a8.7 8.7 0 1 0 17.4 0a8.7 8.7 0 1 0 -17.4 0M484.3 2260.1m-8.7 0a8.7 8.7 0 1 0 17.4 0a8.7 8.7 0 1 0 -17.4 0M494.3 2265.4m-8.7 0a8.7 8.7 0 1 0 17.4 0a8.7 8.7 0 1 0 -17.4 0M504.4 2269.4m-8.7 0a8.7 8.7 0 1 0 17.4 0a8.7 8.7 0 1 0 -17.4 0M514.4 2272.0m-8.7 0a8.7 8.7 0 1 0 17.4 0a8.7 8.7 0 1 0 -17.4 0M524.5 2274.6m-8.7 0a8.7 8.7 0 1 0 17.4 0a8.7 8.7 0 1 0 -17.4 0M534.5 2276.0m-8.7 0a8.7 8.7 0 1 0 17.4 0a8.7 8.7 0 1 0 -17.4 0M544.6 2276.5m-8.7 0a8.7 8.7 0 1 0 17.4 0a8.7 8.7 0 1 0 -17.4 0M554.6 2277.3m-8.7 0a8.7 8.7 0 1 0 17.4 0a8.7 8.7 0 1 0 -17.4 0M564.7 2278.1m-8.7 0a8.7 8.7 0 1 0 17.4 0a8.7 8.7 0 1 0 -17.4 0M574.7 2280.0m-8.7 0a8.7 8.7 0 1 0 17.4 0a8.7 8.7 0 1 0 -17.4 0M584.8 2282.6m-8.7 0a8.7 8.7 0 1 0 17.4 0a8.7 8.7 0 1 0 -17.4 0M594.8 2283.4m-8.7 0a8.7 8.7 0 1 0 17.4 0a8.7 8.7 0 1 0 -17.4 0M604.8 2283.9m-8.7 0a8.7 8.7 0 1 0 17.4 0a8.7 8.7 0 1 0 -17.4 0M614.9 2283.9m-8.7 0a8.7 8.7 0 1 0 17.4 0a8.7 8.7 0 1 0 -17.4 0M624.9 2283.9m-8.7 0a8.7 8.7 0 1 0 17.4 0a8.7 8.7 0 1 0 -17.4 0M635.0 2283.9m-8.7 0a8.7 8.7 0 1 0 17.4 0a8.7 8.7 0 1 0 -17.4 0M645.0 2283.4m-8.7 0a8.7 8.7 0 1 0 17.4 0a8.7 8.7 0 1 0 -17.4 0M655.1 2281.3m-8.7 0a8.7 8.7 0 1 0 17.4 0a8.7 8.7 0 1 0 -17.4 0M665.1 2279.2m-8.7 0a8.7 8.7 0 1 0 17.4 0a8.7 8.7 0 1 0 -17.4 0M675.2 2277.3m-8.7 0a8.7 8.7 0 1 0 17.4 0a8.7 8.7 0 1 0 -17.4 0M685.2 2276.0m-8.7 0a8.7 8.7 0 1 0 17.4 0a8.7 8.7 0 1 0 -17.4 0M695.3 2276.0m-8.7 0a8.7 8.7 0 1 0 17.4 0a8.7 8.7 0 1 0 -17.4 0M705.3 2277.3m-8.7 0a8.7 8.7 0 1 0 17.4 0a8.7 8.7 0 1 0 -17.4 0M715.4 2278.6m-8.7 0a8.7 8.7 0 1 0 17.4 0a8.7 8.7 0 1 0 -17.4 0M725.4 2279.9m-8.7 0a8.7 8.7 0 1 0 17.4 0a8.7 8.7 0 1 0 -17.4 0M735.4 2281.3m-8.7 0a8.7 8.7 0 1 0 17.4 0a8.7 8.7 0 1 0 -17.4 0M745.5 2282.6m-8.7 0a8.7 8.7 0 1 0 17.4 0a8.7 8.7 0 1 0 -17.4 0M755.5 2283.9m-8.7 0a8.7 8.7 0 1 0 17.4 0a8.7 8.7 0 1 0 -17.4 0M765.6 2285.2m-8.7 0a8.7 8.7 0 1 0 17.4 0a8.7 8.7 0 1 0 -17.4 0M775.6 2286.3m-8.7 0a8.7 8.7 0 1 0 17.4 0a8.7 8.7 0 1 0 -17.4 0M785.7 2287.5m-8.7 0a8.7 8.7 0 1 0 17.4 0a8.7 8.7 0 1 0 -17.4 0M795.7 2289.0m-8.7 0a8.7 8.7 0 1 0 17.4 0a8.7 8.7 0 1 0 -17.4 0M805.8 2290.5m-8.7 0a8.7 8.7 0 1 0 17.4 0a8.7 8.7 0 1 0 -17.4 0M815.8 2292.0m-8.7 0a8.7 8.7 0 1 0 17.4 0a8.7 8.7 0 1 0 -17.4 0M825.9 2293.3m-8.7 0a8.7 8.7 0 1 0 17.4 0a8.7 8.7 0 1 0 -17.4 0M835.9 2294.5m-8.7 0a8.7 8.7 0 1 0 17.4 0a8.7 8.7 0 1 0 -17.4 0M845.9 2295.5m-8.7 0a8.7 8.7 0 1 0 17.4 0a8.7 8.7 0 1 0 -17.4 0M856.0 2296.5m-8.7 0a8.7 8.7 0 1 0 17.4 0a8.7 8.7 0 1 0 -17.4 0M866.0 2297.4m-8.7 0a8.7 8.7 0 1 0 17.4 0a8.7 8.7 0 1 0 -17.4 0M876.1 2298.3m-8.7 0a8.7 8.7 0 1 0 17.4 0a8.7 8.7 0 1 0 -17.4 0M886.1 2299.1m-8.7 0a8.7 8.7 0 1 0 17.4 0a8.7 8.7 0 1 0 -17.4 0M896.2 2299.8m-8.7 0a8.7 8.7 0 1 0 17.4 0a8.7 8.7 0 1 0 -17.4 0M906.2 2300.4m-8.7 0a8.7 8.7 0 1 0 17.4 0a8.7 8.7 0 1 0 -17.4 0M916.3 2300.8m-8.7 0a8.7 8.7 0 1 0 17.4 0a8.7 8.7 0 1 0 -17.4 0" fill="#0000ff"/>
<polyline points="92.5,1960.8 102.5,1882.8 112.6,1946.2 122.6,2062.2 132.7,2145.7 142.7,2200.0 152.8,2227.5 162.8,2218.2 172.9,2174.0 182.9,2085.5 193.0,1943.6 203.0,1785.1 213.1,1679.7 223.1,1665.4 233.1,1713.0 243.2,1729.4 253.2,1721.0 263.3,1737.9 273.3,1795.7 283.4,1877.0 293.4,1952.0 303.5,2002.4 313.5,2024.3 323.6,2027.0 333.6,2004.7 343.6,1962.9 353.7,1900.3 363.7,1832.2 373.8,1773.1 383.8,1732.1 393.9,1717.5 403.9,1726.3 414.0,1754.1 424.0,1790.4 434.1,1821.6 444.1,1849.2 454.2,1865.8 464.2,1879.1 474.2,1889.7 484.3,1893.6 494.3,1892.3 504.4,1885.7 514.4,1881.7 524.5,1875.1 534.5,1868.5 544.6,1863.2 554.6,1855.2 564.7,1848.6 574.7,1846.0 584.8,1840.1 594.8,1837.5 604.8,1834.8 614.9,1832.2 624.9,1832.7 635.0,1830.1 645.0,1829.6 655.1,1824.8 665.1,1818.2 675.2,1812.1 685.2,1821.6 695.3,1840.7 705.3,1865.8 715.4,1891.0 725.4,1913.1 735.4,1929.8 745.5,1943.6 755.5,1960.8 765.6,1974.0 775.6,1993.3 785.7,2007.5 795.7,2021.7 805.8,2036.3 815.8,2052.6 825.9,2066.5 835.9,2080.7 845.9,2092.7 856.0,2106.5 866.0,2120.2 876.1,2131.3 886.1,2143.2 896.2,2154.2 906.2,2164.4 916.3,2173.6" fill="none" stroke="#000000" stroke-width="2.2" stroke-linejoin="round"/>
<circle cx="92.5" cy="1960.8" r="7.6" fill="#ffffff" stroke="#000000" stroke-width="2.6"/><circle cx="102.5" cy="1882.8" r="7.6" fill="#ffffff" stroke="#000000" stroke-width="2.6"/><circle cx="112.6" cy="1946.2" r="7.6" fill="#ffffff" stroke="#000000" stroke-width="2.6"/><circle cx="122.6" cy="2062.2" r="7.6" fill="#ffffff" stroke="#000000" stroke-width="2.6"/><circle cx="132.7" cy="2145.7" r="7.6" fill="#ffffff" stroke="#000000" stroke-width="2.6"/><circle cx="142.7" cy="2200.0" r="7.6" fill="#ffffff" stroke="#000000" stroke-width="2.6"/><circle cx="152.8" cy="2227.5" r="7.6" fill="#ffffff" stroke="#000000" stroke-width="2.6"/><circle cx="162.8" cy="2218.2" r="7.6" fill="#ffffff" stroke="#000000" stroke-width="2.6"/><circle cx="172.9" cy="2174.0" r="7.6" fill="#ffffff" stroke="#000000" stroke-width="2.6"/><circle cx="182.9" cy="2085.5" r="7.6" fill="#ffffff" stroke="#000000" stroke-width="2.6"/><circle cx="193.0" cy="1943.6" r="7.6" fill="#ffffff" stroke="#000000" stroke-width="2.6"/><circle cx="203.0" cy="1785.1" r="7.6" fill="#ffffff" stroke="#000000" stroke-width="2.6"/><circle cx="213.1" cy="1679.7" r="7.6" fill="#ffffff" stroke="#000000" stroke-width="2.6"/><circle cx="223.1" cy="1665.4" r="7.6" fill="#ffffff" stroke="#000000" stroke-width="2.6"/><circle cx="233.1" cy="1713.0" r="7.6" fill="#ffffff" stroke="#000000" stroke-width="2.6"/><circle cx="243.2" cy="1729.4" r="7.6" fill="#ffffff" stroke="#000000" stroke-width="2.6"/><circle cx="253.2" cy="1721.0" r="7.6" fill="#ffffff" stroke="#000000" stroke-width="2.6"/><circle cx="263.3" cy="1737.9" r="7.6" fill="#ffffff" stroke="#000000" stroke-width="2.6"/><circle cx="273.3" cy="1795.7" r="7.6" fill="#ffffff" stroke="#000000" stroke-width="2.6"/><circle cx="283.4" cy="1877.0" r="7.6" fill="#ffffff" stroke="#000000" stroke-width="2.6"/><circle cx="293.4" cy="1952.0" r="7.6" fill="#ffffff" stroke="#000000" stroke-width="2.6"/><circle cx="303.5" cy="2002.4" r="7.6" fill="#ffffff" stroke="#000000" stroke-width="2.6"/><circle cx="313.5" cy="2024.3" r="7.6" fill="#ffffff" stroke="#000000" stroke-width="2.6"/><circle cx="323.6" cy="2027.0" r="7.6" fill="#ffffff" stroke="#000000" stroke-width="2.6"/><circle cx="333.6" cy="2004.7" r="7.6" fill="#ffffff" stroke="#000000" stroke-width="2.6"/><circle cx="343.6" cy="1962.9" r="7.6" fill="#ffffff" stroke="#000000" stroke-width="2.6"/><circle cx="353.7" cy="1900.3" r="7.6" fill="#ffffff" stroke="#000000" stroke-width="2.6"/><circle cx="363.7" cy="1832.2" r="7.6" fill="#ffffff" stroke="#000000" stroke-width="2.6"/><circle cx="373.8" cy="1773.1" r="7.6" fill="#ffffff" stroke="#000000" stroke-width="2.6"/><circle cx="383.8" cy="1732.1" r="7.6" fill="#ffffff" stroke="#000000" stroke-width="2.6"/><circle cx="393.9" cy="1717.5" r="7.6" fill="#ffffff" stroke="#000000" stroke-width="2.6"/><circle cx="403.9" cy="1726.3" r="7.6" fill="#ffffff" stroke="#000000" stroke-width="2.6"/><circle cx="414.0" cy="1754.1" r="7.6" fill="#ffffff" stroke="#000000" stroke-width="2.6"/><circle cx="424.0" cy="1790.4" r="7.6" fill="#ffffff" stroke="#000000" stroke-width="2.6"/><circle cx="434.1" cy="1821.6" r="7.6" fill="#ffffff" stroke="#000000" stroke-width="2.6"/><circle cx="444.1" cy="1849.2" r="7.6" fill="#ffffff" stroke="#000000" stroke-width="2.6"/><circle cx="454.2" cy="1865.8" r="7.6" fill="#ffffff" stroke="#000000" stroke-width="2.6"/><circle cx="464.2" cy="1879.1" r="7.6" fill="#ffffff" stroke="#000000" stroke-width="2.6"/><circle cx="474.2" cy="1889.7" r="7.6" fill="#ffffff" stroke="#000000" stroke-width="2.6"/><circle cx="484.3" cy="1893.6" r="7.6" fill="#ffffff" stroke="#000000" stroke-width="2.6"/><circle cx="494.3" cy="1892.3" r="7.6" fill="#ffffff" stroke="#000000" stroke-width="2.6"/><circle cx="504.4" cy="1885.7" r="7.6" fill="#ffffff" stroke="#000000" stroke-width="2.6"/><circle cx="514.4" cy="1881.7" r="7.6" fill="#ffffff" stroke="#000000" stroke-width="2.6"/><circle cx="524.5" cy="1875.1" r="7.6" fill="#ffffff" stroke="#000000" stroke-width="2.6"/><circle cx="534.5" cy="1868.5" r="7.6" fill="#ffffff" stroke="#000000" stroke-width="2.6"/><circle cx="544.6" cy="1863.2" r="7.6" fill="#ffffff" stroke="#000000" stroke-width="2.6"/><circle cx="554.6" cy="1855.2" r="7.6" fill="#ffffff" stroke="#000000" stroke-width="2.6"/><circle cx="564.7" cy="1848.6" r="7.6" fill="#ffffff" stroke="#000000" stroke-width="2.6"/><circle cx="574.7" cy="1846.0" r="7.6" fill="#ffffff" stroke="#000000" stroke-width="2.6"/><circle cx="584.8" cy="1840.1" r="7.6" fill="#ffffff" stroke="#000000" stroke-width="2.6"/><circle cx="594.8" cy="1837.5" r="7.6" fill="#ffffff" stroke="#000000" stroke-width="2.6"/><circle cx="604.8" cy="1834.8" r="7.6" fill="#ffffff" stroke="#000000" stroke-width="2.6"/><circle cx="614.9" cy="1832.2" r="7.6" fill="#ffffff" stroke="#000000" stroke-width="2.6"/><circle cx="624.9" cy="1832.7" r="7.6" fill="#ffffff" stroke="#000000" stroke-width="2.6"/><circle cx="635.0" cy="1830.1" r="7.6" fill="#ffffff" stroke="#000000" stroke-width="2.6"/><circle cx="645.0" cy="1829.6" r="7.6" fill="#ffffff" stroke="#000000" stroke-width="2.6"/><circle cx="655.1" cy="1824.8" r="7.6" fill="#ffffff" stroke="#000000" stroke-width="2.6"/><circle cx="665.1" cy="1818.2" r="7.6" fill="#ffffff" stroke="#000000" stroke-width="2.6"/><circle cx="675.2" cy="1812.1" r="7.6" fill="#ffffff" stroke="#000000" stroke-width="2.6"/><circle cx="685.2" cy="1821.6" r="7.6" fill="#ffffff" stroke="#000000" stroke-width="2.6"/><circle cx="695.3" cy="1840.7" r="7.6" fill="#ffffff" stroke="#000000" stroke-width="2.6"/><circle cx="705.3" cy="1865.8" r="7.6" fill="#ffffff" stroke="#000000" stroke-width="2.6"/><circle cx="715.4" cy="1891.0" r="7.6" fill="#ffffff" stroke="#000000" stroke-width="2.6"/><circle cx="725.4" cy="1913.1" r="7.6" fill="#ffffff" stroke="#000000" stroke-width="2.6"/><circle cx="735.4" cy="1929.8" r="7.6" fill="#ffffff" stroke="#000000" stroke-width="2.6"/><circle cx="745.5" cy="1943.6" r="7.6" fill="#ffffff" stroke="#000000" stroke-width="2.6"/><circle cx="755.5" cy="1960.8" r="7.6" fill="#ffffff" stroke="#000000" stroke-width="2.6"/><circle cx="765.6" cy="1974.0" r="7.6" fill="#ffffff" stroke="#000000" stroke-width="2.6"/><circle cx="775.6" cy="1993.3" r="7.6" fill="#ffffff" stroke="#000000" stroke-width="2.6"/><circle cx="785.7" cy="2007.5" r="7.6" fill="#ffffff" stroke="#000000" stroke-width="2.6"/><circle cx="795.7" cy="2021.7" r="7.6" fill="#ffffff" stroke="#000000" stroke-width="2.6"/><circle cx="805.8" cy="2036.3" r="7.6" fill="#ffffff" stroke="#000000" stroke-width="2.6"/><circle cx="815.8" cy="2052.6" r="7.6" fill="#ffffff" stroke="#000000" stroke-width="2.6"/><circle cx="825.9" cy="2066.5" r="7.6" fill="#ffffff" stroke="#000000" stroke-width="2.6"/><circle cx="835.9" cy="2080.7" r="7.6" fill="#ffffff" stroke="#000000" stroke-width="2.6"/><circle cx="845.9" cy="2092.7" r="7.6" fill="#ffffff" stroke="#000000" stroke-width="2.6"/><circle cx="856.0" cy="2106.5" r="7.6" fill="#ffffff" stroke="#000000" stroke-width="2.6"/><circle cx="866.0" cy="2120.2" r="7.6" fill="#ffffff" stroke="#000000" stroke-width="2.6"/><circle cx="876.1" cy="2131.3" r="7.6" fill="#ffffff" stroke="#000000" stroke-width="2.6"/><circle cx="886.1" cy="2143.2" r="7.6" fill="#ffffff" stroke="#000000" stroke-width="2.6"/><circle cx="896.2" cy="2154.2" r="7.6" fill="#ffffff" stroke="#000000" stroke-width="2.6"/><circle cx="906.2" cy="2164.4" r="7.6" fill="#ffffff" stroke="#000000" stroke-width="2.6"/><circle cx="916.3" cy="2173.6" r="7.6" fill="#ffffff" stroke="#000000" stroke-width="2.6"/>
<polyline points="93.0,1970.1 103.8,1924.2 114.4,1892.4 125.0,1860.6 140.9,1823.5 151.5,1805.0 162.1,1791.2 170.0,1786.5 186.9,1781.7 201.4,1779.7 211.5,1782.2 220.8,1789.9 228.5,1803.4 233.6,1813.0 244.2,1836.8 260.1,1881.8 273.3,1924.2 282.6,1945.4 291.9,1949.3 302.5,1936.1 315.7,1897.7 320.0,1875.1 333.2,1820.6 343.8,1791.5 354.4,1770.3 363.7,1759.7 373.0,1753.1 383.6,1751.2 394.2,1752.3 404.7,1755.7 414.0,1762.9 422.0,1774.3 428.6,1791.5 436.5,1818.0 444.5,1844.5 453.7,1865.1 464.3,1870.9 476.2,1864.3 488.2,1862.5 497.4,1867.8 506.7,1876.2 516.0,1888.2 523.9,1901.4 531.9,1926.6 537.2,1953.0 541.4,1976.5 547.8,2018.8 554.2,2071.8 560.0,2124.1 564.3,2158.4 574.5,2216.9 584.7,2229.6 594.8,2194.0 599.3,2162.2 604.4,2124.1 609.2,2061.2 615.6,1997.7 622.0,1934.1 628.9,1864.1 634.2,1825.1 639.4,1799.7 644.7,1777.4 654.3,1751.0 663.8,1736.1 675.5,1727.7 685.0,1723.8 697.7,1721.3 712.5,1719.6 727.4,1716.0 744.0,1711.1 765.2,1702.2 785.3,1698.6 794.8,1698.0 805.4,1692.7 816.0,1689.5 835.1,1687.0 849.9,1689.5 864.8,1692.7 875.4,1694.8 886.0,1699.1 895.5,1700.8 905.0,1697.4 915.6,1693.8 920.9,1699.1" fill="none" stroke="#0a98dc" stroke-width="2.3" stroke-linejoin="round"/>
<polyline points="93.0,1970.1 103.8,1924.2 114.4,1892.4 125.0,1860.6 140.9,1823.5 151.5,1805.0 162.1,1794.4 172.7,1790.4 188.6,1788.6 200.5,1787.8 209.8,1790.4 220.4,1797.1 233.6,1818.3 249.5,1855.3 265.4,1900.3 276.0,1929.5 283.9,1953.3 291.9,1969.2 302.5,1961.3 313.0,1929.5 320.0,1913.3 330.6,1863.0 341.2,1823.3 351.8,1799.4 365.0,1783.5 375.6,1776.9 388.9,1775.1 402.1,1777.7 412.7,1784.9 420.6,1795.5 428.6,1815.3 436.5,1839.2 444.5,1863.0 452.4,1884.2 463.0,1889.5 473.6,1882.9 486.8,1878.4 500.1,1884.2 510.7,1894.8 521.3,1910.7 529.2,1929.2 535.8,1953.0 540.0,1976.1 546.5,2018.1 553.0,2071.1 558.8,2124.1 563.4,2162.1 573.2,2224.5 583.4,2239.1 587.2,2232.1 596.1,2200.4 600.0,2166.1 604.4,2126.1 609.2,2063.1 615.6,1999.1 622.0,1936.1 629.9,1866.1 636.3,1820.9 642.6,1791.2 649.0,1770.0 657.5,1755.2 668.1,1744.6 678.6,1739.3 691.4,1736.6 708.3,1734.0 721.0,1731.9 733.7,1728.7 744.0,1725.5 765.2,1718.1 786.4,1713.9 807.6,1709.7 824.5,1707.5 837.2,1706.1 854.2,1708.6 866.9,1709.7 877.5,1713.9 886.0,1720.2 895.5,1723.0 905.0,1720.9 915.6,1716.6 920.9,1721.3" fill="none" stroke="#0a98dc" stroke-width="2.4" stroke-dasharray="2.4 2.6" stroke-linejoin="round"/>
<polyline points="93.0,2117.1 101.6,2097.1 113.4,2081.1 122.7,2072.2 132.1,2075.1 142.2,2096.1 153.3,2127.1 162.6,2145.1 171.9,2149.4 182.1,2139.1 191.4,2126.1 202.4,2112.1 212.6,2110.4 222.7,2115.1 232.1,2132.1 242.2,2150.4 251.0,2156.6 262.0,2158.1 273.0,2156.6 281.3,2147.1 293.7,2137.1 303.3,2161.7 311.6,2209.9 319.9,2254.0 325.4,2287.0 333.6,2304.9 344.7,2310.5 363.9,2312.4 394.2,2311.8 416.3,2310.5 432.8,2306.9 443.8,2299.4 454.8,2278.8 463.1,2221.0 468.6,2135.6 473.4,2053.0 478.9,1984.1 480.8,1953.0 486.2,1863.0 492.4,1784.1 497.4,1749.8 502.1,1724.4 504.5,1714.1 508.8,1709.7 513.0,1706.4 516.4,1708.9 519.8,1716.5 522.4,1721.5 525.6,1727.1 528.0,1744.1 533.8,1784.1 537.7,1863.0 542.8,1934.1 547.0,1997.7 552.3,2069.7 555.4,2129.1 559.7,2181.3 564.2,2232.1 573.7,2284.3 584.2,2301.1 593.6,2305.9 606.3,2309.4 650.0,2309.9 660.0,2309.6 696.1,2311.1 735.2,2313.5 771.3,2311.7 795.4,2314.1 840.5,2311.7 870.6,2312.6 894.7,2317.1 920.2,2313.5" fill="none" stroke="#ff0000" stroke-width="2.2" stroke-dasharray="2.2 2.6" stroke-linejoin="round"/>
<polyline points="93.0,2117.1 101.6,2096.0 113.4,2078.2 122.7,2066.3 132.1,2070.5 142.2,2094.3 153.3,2126.5 162.6,2145.1 171.9,2149.4 182.1,2138.3 191.4,2124.8 202.4,2107.8 212.6,2101.0 222.7,2109.5 232.1,2129.9 242.2,2149.4 251.0,2154.9 262.0,2157.6 273.0,2156.2 281.3,2148.0 293.7,2138.9 303.3,2161.7 311.6,2209.9 319.9,2254.0 325.4,2287.0 333.6,2304.9 344.7,2310.5 363.9,2312.4 394.2,2311.8 416.3,2310.5 432.8,2306.9 443.8,2299.4 454.8,2278.8 463.1,2221.0 468.6,2135.6 474.1,2053.0 479.6,1984.1 481.5,1953.0 486.8,1863.0 492.8,1784.1 497.5,1749.8 501.8,1724.4 503.7,1706.9 514.5,1694.7 524.6,1706.9 527.2,1726.5 534.6,1784.1 538.5,1863.0 543.6,1934.1 547.8,1997.7 553.1,2069.7 556.2,2129.1 560.5,2181.3 565.0,2232.1 574.5,2284.3 584.7,2300.8 593.6,2305.9 606.3,2309.4 650.0,2309.9 660.0,2309.6 696.1,2311.1 735.2,2313.5 771.3,2311.7 795.4,2314.1 840.5,2311.7 870.6,2312.6 894.7,2317.1 920.2,2313.5" fill="none" stroke="#ff0000" stroke-width="2.0" stroke-linejoin="round"/>
</svg>
</body></html>
